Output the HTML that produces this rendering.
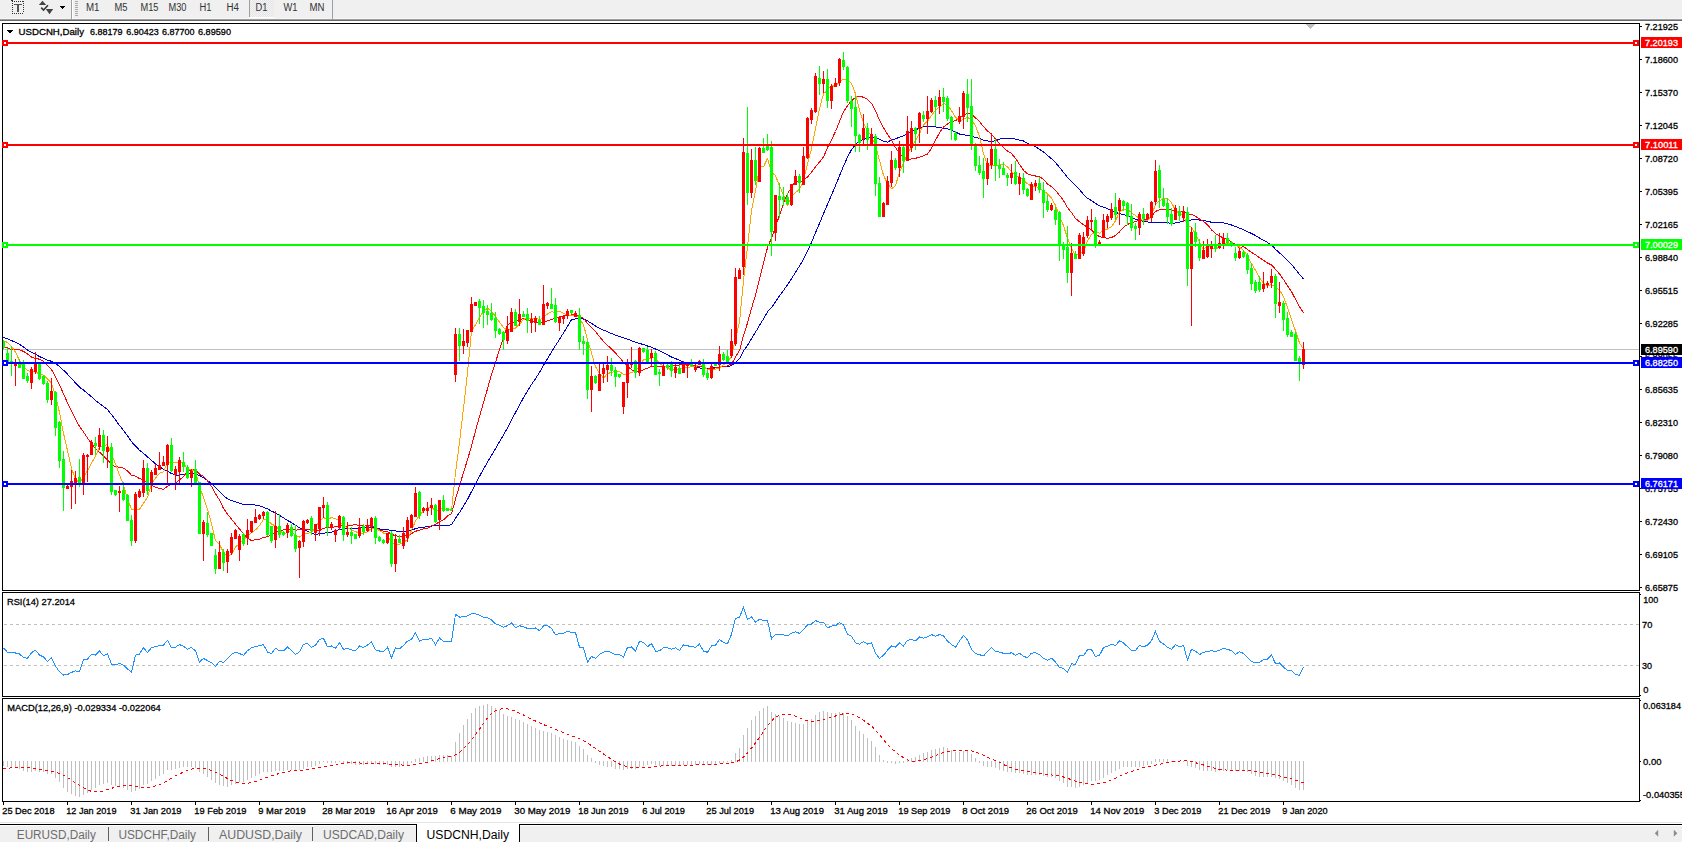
<!DOCTYPE html>
<html><head><meta charset="utf-8"><style>
html,body{margin:0;padding:0;background:#fff;overflow:hidden;width:1682px;height:842px}
svg{display:block}
text{font-family:"Liberation Sans", sans-serif;}
</style></head><body>
<svg width="1682" height="842" viewBox="0 0 1682 842" shape-rendering="crispEdges">
<rect x="0" y="0" width="1682" height="19" fill="#f0f0f0"/>
<rect x="0" y="18" width="1682" height="1" fill="#f6f6f6"/>
<rect x="0" y="19" width="1682" height="1" fill="#a0a0a0"/>
<rect x="0" y="20" width="1682" height="1" fill="#6a6a6a"/>
<rect x="12" y="1" width="1" height="1" fill="#333"/>
<rect x="12" y="13" width="1" height="1" fill="#333"/>
<rect x="14" y="1" width="1" height="1" fill="#333"/>
<rect x="14" y="13" width="1" height="1" fill="#333"/>
<rect x="16" y="1" width="1" height="1" fill="#333"/>
<rect x="16" y="13" width="1" height="1" fill="#333"/>
<rect x="18" y="1" width="1" height="1" fill="#333"/>
<rect x="18" y="13" width="1" height="1" fill="#333"/>
<rect x="20" y="1" width="1" height="1" fill="#333"/>
<rect x="20" y="13" width="1" height="1" fill="#333"/>
<rect x="22" y="1" width="1" height="1" fill="#333"/>
<rect x="22" y="13" width="1" height="1" fill="#333"/>
<rect x="12" y="1" width="1" height="1" fill="#333"/>
<rect x="23" y="1" width="1" height="1" fill="#333"/>
<rect x="12" y="3" width="1" height="1" fill="#333"/>
<rect x="23" y="3" width="1" height="1" fill="#333"/>
<rect x="12" y="5" width="1" height="1" fill="#333"/>
<rect x="23" y="5" width="1" height="1" fill="#333"/>
<rect x="12" y="7" width="1" height="1" fill="#333"/>
<rect x="23" y="7" width="1" height="1" fill="#333"/>
<rect x="12" y="9" width="1" height="1" fill="#333"/>
<rect x="23" y="9" width="1" height="1" fill="#333"/>
<rect x="12" y="11" width="1" height="1" fill="#333"/>
<rect x="23" y="11" width="1" height="1" fill="#333"/>
<rect x="11" y="0" width="2" height="1" fill="#333"/>
<rect x="14" y="4" width="8" height="1" fill="#555"/>
<rect x="17" y="5" width="2" height="7" fill="#555"/>
<path d="M38.8 5 L42.5 0.8 L46.2 5 Z" fill="#444" shape-rendering="auto"/>
<path d="M41.2 7.6 L43.5 10 L48 5.2" stroke="#383838" stroke-width="1.6" fill="none" shape-rendering="auto"/>
<path d="M45.8 9 L53.2 9 L49.5 14.2 Z" fill="#444" shape-rendering="auto"/>
<path d="M60 6 L65 6 L62.5 9 Z" fill="#000"/>
<rect x="71" y="0" width="1" height="19" fill="#a0a0a0"/>
<rect x="72" y="0" width="1" height="19" fill="#ffffff"/>
<rect x="75" y="1" width="3" height="1" fill="#a8a8a8"/>
<rect x="75" y="3" width="3" height="1" fill="#a8a8a8"/>
<rect x="75" y="5" width="3" height="1" fill="#a8a8a8"/>
<rect x="75" y="7" width="3" height="1" fill="#a8a8a8"/>
<rect x="75" y="9" width="3" height="1" fill="#a8a8a8"/>
<rect x="75" y="11" width="3" height="1" fill="#a8a8a8"/>
<rect x="75" y="13" width="3" height="1" fill="#a8a8a8"/>
<rect x="75" y="15" width="3" height="1" fill="#a8a8a8"/>
<defs><pattern id="chk" width="2" height="2" patternUnits="userSpaceOnUse"><rect width="2" height="2" fill="#f4f4f4"/><rect width="1" height="1" fill="#e4e4e4"/><rect x="1" y="1" width="1" height="1" fill="#e4e4e4"/></pattern></defs>
<rect x="250" y="0" width="24" height="17" fill="url(#chk)"/>
<rect x="249" y="0" width="1" height="17" fill="#a0a0a0"/>
<rect x="249" y="17" width="25" height="1" fill="#ffffff"/>
<rect x="332" y="0" width="1" height="19" fill="#a0a0a0"/>
<text x="86" y="11" font-size="10" fill="#333" textLength="13.5" lengthAdjust="spacingAndGlyphs" text-anchor="start" stroke-width="0">M1</text>
<text x="114.5" y="11" font-size="10" fill="#333" textLength="13" lengthAdjust="spacingAndGlyphs" text-anchor="start" stroke-width="0">M5</text>
<text x="140.5" y="11" font-size="10" fill="#333" textLength="18" lengthAdjust="spacingAndGlyphs" text-anchor="start" stroke-width="0">M15</text>
<text x="168.5" y="11" font-size="10" fill="#333" textLength="18" lengthAdjust="spacingAndGlyphs" text-anchor="start" stroke-width="0">M30</text>
<text x="199.5" y="11" font-size="10" fill="#333" textLength="12" lengthAdjust="spacingAndGlyphs" text-anchor="start" stroke-width="0">H1</text>
<text x="226.5" y="11" font-size="10" fill="#333" textLength="12.5" lengthAdjust="spacingAndGlyphs" text-anchor="start" stroke-width="0">H4</text>
<text x="255.5" y="11" font-size="10" fill="#333" textLength="12" lengthAdjust="spacingAndGlyphs" text-anchor="start" stroke-width="0">D1</text>
<text x="283.5" y="11" font-size="10" fill="#333" textLength="14" lengthAdjust="spacingAndGlyphs" text-anchor="start" stroke-width="0">W1</text>
<text x="309.5" y="11" font-size="10" fill="#333" textLength="15" lengthAdjust="spacingAndGlyphs" text-anchor="start" stroke-width="0">MN</text>
<rect x="2.5" y="23.5" width="1637" height="567" fill="none" stroke="#000" stroke-width="1"/>
<rect x="2.5" y="592.5" width="1637" height="104" fill="none" stroke="#000" stroke-width="1"/>
<rect x="2.5" y="698.5" width="1637" height="103" fill="none" stroke="#000" stroke-width="1"/>
<defs><clipPath id="cm"><rect x="3" y="24" width="1636" height="566"/></clipPath><clipPath id="cr"><rect x="3" y="593" width="1636" height="103"/></clipPath><clipPath id="cd"><rect x="3" y="699" width="1636" height="102"/></clipPath></defs>
<g clip-path="url(#cm)">
<rect x="3" y="349" width="1636" height="1" fill="#c0c0c0"/>
<polyline points="3.5,337.5 7.5,338.9 11.5,340.5 15.5,342.3 19.5,344.4 23.5,347.1 27.5,350.0 31.5,352.4 35.5,354.4 39.5,356.5 43.5,358.3 47.5,360.1 51.5,361.3 55.5,363.4 59.5,366.4 63.5,370.2 67.5,374.2 71.5,378.4 75.5,383.0 79.5,387.2 83.5,390.1 87.5,393.4 91.5,396.7 95.5,400.6 99.5,403.6 103.5,406.5 107.5,409.6 111.5,414.6 115.5,419.9 119.5,425.4 123.5,430.5 127.5,435.8 131.5,441.7 135.5,446.1 139.5,450.2 143.5,453.3 147.5,456.9 151.5,460.4 155.5,463.8 159.5,466.7 163.5,469.4 167.5,470.9 171.5,473.6 175.5,475.0 179.5,475.0 183.5,474.3 187.5,474.0 191.5,473.7 195.5,473.8 199.5,475.5 203.5,477.7 207.5,480.3 211.5,483.8 215.5,487.8 219.5,491.8 223.5,495.5 227.5,498.9 231.5,500.5 235.5,501.7 239.5,503.2 243.5,504.7 247.5,505.0 251.5,504.4 255.5,505.1 259.5,505.9 263.5,507.3 267.5,508.8 271.5,511.1 275.5,513.0 279.5,515.3 283.5,517.8 287.5,520.4 291.5,522.6 295.5,525.2 299.5,527.9 303.5,529.7 307.5,531.1 311.5,533.1 315.5,534.5 319.5,533.6 323.5,533.1 327.5,532.8 331.5,532.1 335.5,530.8 339.5,529.6 343.5,528.7 347.5,528.1 351.5,528.0 355.5,528.3 359.5,528.0 363.5,527.6 367.5,527.4 371.5,527.3 375.5,528.0 379.5,528.8 383.5,529.8 387.5,529.8 391.5,530.5 395.5,531.0 399.5,531.2 403.5,531.2 407.5,531.0 411.5,530.4 415.5,528.5 419.5,527.7 423.5,527.2 427.5,526.8 431.5,526.0 435.5,525.9 439.5,525.6 443.5,525.8 447.5,525.3 451.5,524.8 455.5,518.2 459.5,512.5 463.5,506.1 467.5,499.4 471.5,491.7 475.5,483.8 479.5,476.4 483.5,469.1 487.5,462.1 491.5,455.5 495.5,448.6 499.5,441.7 503.5,434.9 507.5,428.1 511.5,419.7 515.5,412.6 519.5,405.0 523.5,397.7 527.5,391.1 531.5,384.5 535.5,378.7 539.5,372.3 543.5,365.5 547.5,358.7 551.5,352.1 555.5,345.5 559.5,339.4 563.5,332.9 567.5,326.3 571.5,319.7 575.5,319.0 579.5,318.9 583.5,319.0 587.5,320.9 591.5,323.3 595.5,326.0 599.5,328.2 603.5,330.1 607.5,331.8 611.5,333.5 615.5,335.1 619.5,336.5 623.5,337.9 627.5,339.1 631.5,340.7 635.5,342.3 639.5,343.4 643.5,344.6 647.5,346.0 651.5,347.2 655.5,349.0 659.5,350.7 663.5,352.8 667.5,354.9 671.5,357.0 675.5,358.5 679.5,360.3 683.5,361.9 687.5,363.6 691.5,365.4 695.5,367.2 699.5,367.9 703.5,368.9 707.5,368.5 711.5,368.2 715.5,367.6 719.5,367.0 723.5,366.7 727.5,366.5 731.5,365.6 735.5,362.3 739.5,358.7 743.5,351.0 747.5,345.3 751.5,338.6 755.5,332.2 759.5,325.5 763.5,318.9 767.5,311.8 771.5,307.7 775.5,301.8 779.5,295.9 783.5,290.4 787.5,284.9 791.5,278.7 795.5,272.3 799.5,266.0 803.5,259.1 807.5,250.9 811.5,242.4 815.5,232.7 819.5,223.4 823.5,213.6 827.5,204.4 831.5,195.0 835.5,185.6 839.5,175.8 843.5,166.0 847.5,157.3 851.5,149.5 855.5,144.8 859.5,140.5 863.5,139.7 867.5,138.0 871.5,137.1 875.5,137.2 879.5,139.5 883.5,141.1 887.5,142.2 891.5,139.8 895.5,138.9 899.5,137.2 903.5,135.9 907.5,133.5 911.5,131.6 915.5,130.2 919.5,127.9 923.5,126.6 927.5,126.4 931.5,126.0 935.5,127.0 939.5,127.5 943.5,128.2 947.5,128.8 951.5,130.3 955.5,132.1 959.5,134.0 963.5,134.9 967.5,135.2 971.5,136.4 975.5,137.4 979.5,138.4 983.5,140.1 987.5,140.9 991.5,141.4 995.5,140.8 999.5,139.2 1003.5,138.2 1007.5,138.1 1011.5,138.5 1015.5,139.1 1019.5,140.1 1023.5,141.0 1027.5,143.2 1031.5,145.0 1035.5,146.7 1039.5,149.2 1043.5,152.0 1047.5,155.3 1051.5,158.8 1055.5,162.5 1059.5,167.4 1063.5,172.4 1067.5,177.5 1071.5,181.7 1075.5,185.6 1079.5,189.6 1083.5,194.4 1087.5,198.2 1091.5,200.7 1095.5,203.4 1099.5,205.7 1103.5,207.1 1107.5,208.8 1111.5,210.9 1115.5,212.5 1119.5,213.5 1123.5,214.6 1127.5,215.9 1131.5,217.7 1135.5,219.2 1139.5,220.4 1143.5,221.4 1147.5,222.0 1151.5,222.6 1155.5,222.2 1159.5,222.5 1163.5,222.6 1167.5,222.8 1171.5,223.4 1175.5,223.0 1179.5,222.1 1183.5,220.8 1187.5,220.7 1191.5,220.0 1195.5,219.4 1199.5,220.1 1203.5,220.5 1207.5,221.4 1211.5,222.2 1215.5,222.3 1219.5,222.3 1223.5,222.9 1227.5,223.8 1231.5,225.0 1235.5,226.4 1239.5,228.1 1243.5,229.8 1247.5,231.6 1251.5,233.5 1255.5,235.5 1259.5,238.0 1263.5,240.2 1267.5,242.5 1271.5,244.9 1275.5,249.3 1279.5,252.8 1283.5,256.7 1287.5,260.6 1291.5,264.4 1295.5,269.4 1299.5,274.4 1303.5,279.0" fill="none" stroke="#0000cd" stroke-width="1" stroke-linejoin="bevel"/>
<polyline points="3.5,347.4 7.5,348.0 11.5,349.4 15.5,350.0 19.5,349.8 23.5,351.4 27.5,354.1 31.5,357.0 35.5,358.4 39.5,359.2 43.5,361.4 47.5,365.5 51.5,369.5 55.5,376.8 59.5,384.9 63.5,393.9 67.5,402.7 71.5,411.1 75.5,419.0 79.5,426.5 83.5,431.9 87.5,438.0 91.5,443.7 95.5,448.5 99.5,452.2 103.5,455.9 107.5,459.9 111.5,464.4 115.5,466.8 119.5,467.1 123.5,468.1 127.5,470.9 131.5,475.3 135.5,476.1 139.5,478.7 143.5,479.7 147.5,483.1 151.5,485.0 155.5,487.3 159.5,488.4 163.5,489.4 167.5,486.1 171.5,484.5 175.5,482.9 179.5,480.2 183.5,476.3 187.5,471.8 191.5,470.1 195.5,469.6 199.5,474.2 203.5,476.4 207.5,480.8 211.5,486.4 215.5,493.7 219.5,500.1 223.5,508.5 227.5,514.2 231.5,519.1 235.5,524.1 239.5,529.0 243.5,533.8 247.5,538.0 251.5,540.7 255.5,539.6 259.5,539.1 263.5,537.5 267.5,536.8 271.5,534.8 275.5,532.9 279.5,531.0 283.5,529.8 287.5,528.9 291.5,529.3 295.5,530.1 299.5,529.9 303.5,529.3 307.5,529.2 311.5,530.2 315.5,530.8 319.5,530.5 323.5,528.4 327.5,527.3 331.5,527.2 335.5,526.9 339.5,525.6 343.5,526.2 347.5,526.0 351.5,525.1 355.5,524.9 359.5,525.3 363.5,526.1 367.5,525.8 371.5,525.3 375.5,527.5 379.5,530.0 383.5,531.2 387.5,531.8 391.5,534.2 395.5,535.8 399.5,536.4 403.5,536.5 407.5,535.4 411.5,533.7 415.5,531.3 419.5,530.1 423.5,528.9 427.5,528.2 431.5,525.9 435.5,524.5 439.5,521.5 443.5,519.8 447.5,516.0 451.5,513.9 455.5,499.1 459.5,485.6 463.5,472.8 467.5,459.6 471.5,446.1 475.5,430.9 479.5,416.5 483.5,402.6 487.5,388.9 491.5,374.5 495.5,362.3 499.5,349.7 503.5,337.5 507.5,324.6 511.5,323.0 515.5,321.6 519.5,319.7 523.5,318.6 527.5,319.8 531.5,321.0 535.5,321.8 539.5,322.6 543.5,321.9 547.5,320.8 551.5,319.3 555.5,318.4 559.5,316.9 563.5,315.9 567.5,315.8 571.5,314.9 575.5,314.8 579.5,316.7 583.5,318.3 587.5,323.3 591.5,327.4 595.5,331.7 599.5,336.6 603.5,341.3 607.5,345.3 611.5,348.9 615.5,353.1 619.5,357.4 623.5,362.5 627.5,366.1 631.5,369.6 635.5,371.8 639.5,372.1 643.5,369.5 647.5,368.4 651.5,366.4 655.5,366.4 659.5,366.8 663.5,366.9 667.5,366.6 671.5,366.2 675.5,365.6 679.5,364.9 683.5,364.8 687.5,364.9 691.5,364.5 695.5,365.8 699.5,366.5 703.5,367.4 707.5,369.1 711.5,368.5 715.5,367.9 719.5,367.0 723.5,366.5 727.5,365.9 731.5,364.0 735.5,357.1 739.5,350.5 743.5,335.5 747.5,323.0 751.5,308.3 755.5,295.3 759.5,279.2 763.5,263.1 767.5,247.6 771.5,238.0 775.5,226.7 779.5,215.2 783.5,203.7 787.5,193.8 791.5,187.2 795.5,180.5 799.5,182.6 803.5,180.1 807.5,177.1 811.5,172.1 815.5,166.9 819.5,162.0 823.5,157.0 827.5,147.6 831.5,139.8 835.5,131.5 839.5,121.5 843.5,111.7 847.5,105.7 851.5,100.8 855.5,97.5 859.5,96.4 863.5,97.2 867.5,99.2 871.5,103.4 875.5,110.5 879.5,120.3 883.5,127.6 887.5,134.4 891.5,139.9 895.5,147.6 899.5,153.4 903.5,157.7 907.5,159.4 911.5,158.9 915.5,158.3 919.5,157.2 923.5,155.7 927.5,154.1 931.5,148.2 935.5,140.3 939.5,132.8 943.5,127.0 947.5,124.0 951.5,121.3 955.5,120.8 959.5,117.6 963.5,114.9 967.5,113.3 971.5,114.1 975.5,117.8 979.5,121.7 983.5,126.5 987.5,131.0 991.5,134.1 995.5,138.9 999.5,143.7 1003.5,147.7 1007.5,151.1 1011.5,153.5 1015.5,158.4 1019.5,164.4 1023.5,170.3 1027.5,173.9 1031.5,175.2 1035.5,176.0 1039.5,176.7 1043.5,179.5 1047.5,183.9 1051.5,186.7 1055.5,190.4 1059.5,195.4 1063.5,200.5 1067.5,207.6 1071.5,212.6 1075.5,218.4 1079.5,221.7 1083.5,224.7 1087.5,227.3 1091.5,229.9 1095.5,233.9 1099.5,236.8 1103.5,237.5 1107.5,238.3 1111.5,237.6 1115.5,235.4 1119.5,231.9 1123.5,227.2 1127.5,224.5 1131.5,222.3 1135.5,221.8 1139.5,220.1 1143.5,220.0 1147.5,219.6 1151.5,216.5 1155.5,211.4 1159.5,209.8 1163.5,209.0 1167.5,209.5 1171.5,210.1 1175.5,210.8 1179.5,211.5 1183.5,211.1 1187.5,214.1 1191.5,214.3 1195.5,216.2 1199.5,219.0 1203.5,221.5 1207.5,224.7 1211.5,229.9 1215.5,233.5 1219.5,236.2 1223.5,237.8 1227.5,239.2 1231.5,241.8 1235.5,244.8 1239.5,247.6 1243.5,246.7 1247.5,249.4 1251.5,252.4 1255.5,254.8 1259.5,257.6 1263.5,260.3 1267.5,263.0 1271.5,265.0 1275.5,269.3 1279.5,273.9 1283.5,279.4 1287.5,285.8 1291.5,291.5 1295.5,299.3 1299.5,306.9 1303.5,312.6" fill="none" stroke="#ff0000" stroke-width="1" stroke-linejoin="bevel"/>
<polyline points="3.5,340.7 7.5,342.4 11.5,346.5 15.5,352.2 19.5,360.6 23.5,366.8 27.5,370.5 31.5,371.9 35.5,371.9 39.5,374.1 43.5,375.1 47.5,378.9 51.5,383.3 55.5,396.0 59.5,412.5 63.5,433.3 67.5,450.6 71.5,468.6 75.5,478.8 79.5,483.4 83.5,477.0 87.5,470.8 91.5,463.1 95.5,456.5 99.5,446.9 103.5,446.0 107.5,444.5 111.5,454.2 115.5,463.9 119.5,475.1 123.5,484.8 127.5,499.4 131.5,509.2 135.5,509.4 139.5,509.4 143.5,503.3 147.5,497.3 151.5,483.7 155.5,478.3 159.5,473.1 163.5,471.8 167.5,462.8 171.5,462.5 175.5,462.8 179.5,461.9 183.5,462.8 187.5,469.1 191.5,469.2 195.5,472.0 199.5,486.5 203.5,497.6 207.5,509.0 211.5,523.8 215.5,540.7 219.5,544.6 223.5,552.6 227.5,556.0 231.5,554.4 235.5,546.9 239.5,543.6 243.5,539.9 247.5,535.8 251.5,532.6 255.5,529.9 259.5,525.7 263.5,519.4 267.5,520.3 271.5,524.1 275.5,525.9 279.5,529.8 283.5,534.3 287.5,532.4 291.5,531.4 295.5,535.8 299.5,537.1 303.5,534.4 307.5,533.4 311.5,532.4 315.5,527.7 319.5,520.9 323.5,517.7 327.5,518.9 331.5,517.7 335.5,518.8 339.5,520.6 343.5,526.3 347.5,527.6 351.5,529.9 355.5,531.5 359.5,533.7 363.5,533.2 367.5,531.9 371.5,528.3 375.5,528.1 379.5,530.7 383.5,533.0 387.5,534.5 391.5,543.5 395.5,543.9 399.5,544.3 403.5,542.3 407.5,539.9 411.5,530.3 415.5,521.0 419.5,515.6 423.5,510.7 427.5,508.2 431.5,506.2 435.5,511.9 439.5,508.8 443.5,509.1 447.5,509.6 451.5,510.4 455.5,473.0 459.5,442.0 463.5,408.3 467.5,372.3 471.5,331.3 475.5,324.8 479.5,317.2 483.5,311.4 487.5,308.1 491.5,311.2 495.5,316.7 499.5,322.0 503.5,327.4 507.5,330.4 511.5,329.0 515.5,328.1 519.5,324.2 523.5,319.5 527.5,317.7 531.5,319.1 535.5,317.7 539.5,319.7 543.5,317.4 547.5,314.0 551.5,311.8 555.5,312.4 559.5,311.2 563.5,313.5 567.5,315.1 571.5,315.9 575.5,314.3 579.5,319.1 583.5,324.6 587.5,340.1 591.5,352.8 595.5,366.8 599.5,373.2 603.5,378.2 607.5,373.6 611.5,372.4 615.5,371.1 619.5,371.6 623.5,374.5 627.5,373.9 631.5,372.3 635.5,371.4 639.5,365.9 643.5,359.6 647.5,359.4 651.5,357.7 655.5,358.3 659.5,363.3 663.5,366.3 667.5,367.3 671.5,370.7 675.5,369.2 679.5,369.0 683.5,368.1 687.5,367.6 691.5,366.6 695.5,366.6 699.5,364.2 703.5,366.7 707.5,369.4 711.5,369.6 715.5,369.3 719.5,367.8 723.5,364.7 727.5,361.5 731.5,356.5 735.5,338.8 739.5,322.0 743.5,280.6 747.5,246.8 751.5,210.5 755.5,191.1 759.5,166.8 763.5,166.8 767.5,158.3 771.5,172.6 775.5,175.6 779.5,185.8 783.5,195.1 787.5,205.9 791.5,196.6 795.5,192.6 799.5,189.2 803.5,180.7 807.5,163.6 811.5,148.8 815.5,128.8 819.5,109.0 823.5,93.7 827.5,90.1 831.5,85.3 835.5,86.7 839.5,81.9 843.5,79.2 847.5,79.2 851.5,83.5 855.5,93.8 859.5,110.4 863.5,122.9 867.5,130.8 871.5,136.0 875.5,145.6 879.5,160.4 883.5,175.3 887.5,183.7 891.5,188.9 895.5,185.7 899.5,172.0 903.5,163.4 907.5,153.4 911.5,147.2 915.5,140.4 919.5,133.6 923.5,125.1 927.5,121.2 931.5,115.5 935.5,110.1 939.5,106.9 943.5,103.5 947.5,104.7 951.5,110.6 955.5,117.2 959.5,121.0 963.5,119.4 967.5,117.2 971.5,120.2 975.5,125.4 979.5,136.7 983.5,153.7 987.5,165.0 991.5,165.8 995.5,165.8 999.5,165.1 1003.5,164.2 1007.5,166.9 1011.5,171.7 1015.5,175.4 1019.5,177.2 1023.5,180.3 1027.5,183.9 1031.5,186.1 1035.5,186.0 1039.5,188.3 1043.5,190.9 1047.5,193.8 1051.5,198.1 1055.5,205.4 1059.5,216.5 1063.5,225.7 1067.5,238.2 1071.5,247.9 1075.5,255.5 1079.5,253.8 1083.5,251.5 1087.5,241.1 1091.5,234.4 1095.5,231.9 1099.5,233.3 1103.5,229.9 1107.5,229.0 1111.5,226.9 1115.5,220.7 1119.5,212.2 1123.5,209.2 1127.5,209.2 1131.5,212.7 1135.5,215.6 1139.5,218.4 1143.5,221.1 1147.5,220.7 1151.5,215.7 1155.5,204.3 1159.5,200.9 1163.5,198.3 1167.5,198.6 1171.5,202.7 1175.5,210.2 1179.5,213.8 1183.5,215.0 1187.5,225.5 1191.5,227.3 1195.5,233.8 1199.5,242.1 1203.5,249.8 1207.5,245.4 1211.5,247.8 1215.5,249.3 1219.5,246.6 1223.5,244.3 1227.5,243.4 1231.5,243.6 1235.5,245.4 1239.5,247.0 1243.5,250.5 1247.5,256.0 1251.5,263.6 1255.5,270.2 1259.5,277.7 1263.5,283.3 1267.5,286.0 1271.5,284.5 1275.5,287.2 1279.5,289.9 1283.5,297.0 1287.5,307.4 1291.5,319.5 1295.5,330.9 1299.5,343.0 1303.5,349.0" fill="none" stroke="#ffa500" stroke-width="1" stroke-linejoin="bevel"/>
<rect x="3" y="340" width="1" height="9" fill="#00ff00"/>
<rect x="2" y="341" width="3" height="7" fill="#00ff00"/>
<rect x="7" y="348" width="1" height="17" fill="#00ff00"/>
<rect x="6" y="353" width="3" height="9" fill="#00ff00"/>
<rect x="11" y="346" width="1" height="30" fill="#00ff00"/>
<rect x="10" y="361" width="3" height="2" fill="#00ff00"/>
<rect x="15" y="359" width="1" height="27" fill="#ff0000"/>
<rect x="14" y="364" width="3" height="2" fill="#ff0000"/>
<rect x="19" y="359" width="1" height="9" fill="#00ff00"/>
<rect x="18" y="363" width="3" height="5" fill="#00ff00"/>
<rect x="23" y="360" width="1" height="19" fill="#00ff00"/>
<rect x="22" y="364" width="3" height="15" fill="#00ff00"/>
<rect x="27" y="373" width="1" height="10" fill="#00ff00"/>
<rect x="26" y="376" width="3" height="5" fill="#00ff00"/>
<rect x="31" y="367" width="1" height="22" fill="#ff0000"/>
<rect x="30" y="369" width="3" height="14" fill="#ff0000"/>
<rect x="35" y="352" width="1" height="22" fill="#ff0000"/>
<rect x="34" y="364" width="3" height="8" fill="#ff0000"/>
<rect x="39" y="362" width="1" height="18" fill="#00ff00"/>
<rect x="38" y="364" width="3" height="15" fill="#00ff00"/>
<rect x="43" y="375" width="1" height="10" fill="#00ff00"/>
<rect x="42" y="376" width="3" height="8" fill="#00ff00"/>
<rect x="47" y="381" width="1" height="22" fill="#00ff00"/>
<rect x="46" y="383" width="3" height="17" fill="#00ff00"/>
<rect x="51" y="378" width="1" height="27" fill="#ff0000"/>
<rect x="50" y="391" width="3" height="9" fill="#ff0000"/>
<rect x="55" y="391" width="1" height="45" fill="#00ff00"/>
<rect x="54" y="392" width="3" height="36" fill="#00ff00"/>
<rect x="59" y="421" width="1" height="47" fill="#00ff00"/>
<rect x="58" y="422" width="3" height="39" fill="#00ff00"/>
<rect x="63" y="451" width="1" height="60" fill="#00ff00"/>
<rect x="62" y="459" width="3" height="29" fill="#00ff00"/>
<rect x="67" y="485" width="1" height="4" fill="#ff0000"/>
<rect x="66" y="486" width="3" height="3" fill="#ff0000"/>
<rect x="71" y="470" width="1" height="39" fill="#ff0000"/>
<rect x="70" y="481" width="3" height="6" fill="#ff0000"/>
<rect x="75" y="471" width="1" height="33" fill="#ff0000"/>
<rect x="74" y="478" width="3" height="5" fill="#ff0000"/>
<rect x="79" y="459" width="1" height="28" fill="#00ff00"/>
<rect x="78" y="477" width="3" height="7" fill="#00ff00"/>
<rect x="83" y="453" width="1" height="42" fill="#ff0000"/>
<rect x="82" y="455" width="3" height="29" fill="#ff0000"/>
<rect x="87" y="454" width="1" height="28" fill="#ff0000"/>
<rect x="86" y="455" width="3" height="2" fill="#ff0000"/>
<rect x="91" y="440" width="1" height="15" fill="#ff0000"/>
<rect x="90" y="442" width="3" height="13" fill="#ff0000"/>
<rect x="95" y="437" width="1" height="18" fill="#00ff00"/>
<rect x="94" y="443" width="3" height="3" fill="#00ff00"/>
<rect x="99" y="428" width="1" height="22" fill="#ff0000"/>
<rect x="98" y="435" width="3" height="12" fill="#ff0000"/>
<rect x="103" y="430" width="1" height="33" fill="#00ff00"/>
<rect x="102" y="435" width="3" height="16" fill="#00ff00"/>
<rect x="107" y="436" width="1" height="32" fill="#ff0000"/>
<rect x="106" y="447" width="3" height="5" fill="#ff0000"/>
<rect x="111" y="443" width="1" height="52" fill="#00ff00"/>
<rect x="110" y="447" width="3" height="45" fill="#00ff00"/>
<rect x="115" y="490" width="1" height="6" fill="#00ff00"/>
<rect x="114" y="490" width="3" height="5" fill="#00ff00"/>
<rect x="119" y="486" width="1" height="26" fill="#ff0000"/>
<rect x="118" y="491" width="3" height="2" fill="#ff0000"/>
<rect x="123" y="482" width="1" height="19" fill="#00ff00"/>
<rect x="122" y="490" width="3" height="10" fill="#00ff00"/>
<rect x="127" y="494" width="1" height="27" fill="#00ff00"/>
<rect x="126" y="495" width="3" height="26" fill="#00ff00"/>
<rect x="131" y="515" width="1" height="31" fill="#00ff00"/>
<rect x="130" y="520" width="3" height="21" fill="#00ff00"/>
<rect x="135" y="492" width="1" height="51" fill="#ff0000"/>
<rect x="134" y="494" width="3" height="47" fill="#ff0000"/>
<rect x="139" y="489" width="1" height="9" fill="#ff0000"/>
<rect x="138" y="491" width="3" height="6" fill="#ff0000"/>
<rect x="143" y="460" width="1" height="37" fill="#ff0000"/>
<rect x="142" y="468" width="3" height="25" fill="#ff0000"/>
<rect x="147" y="463" width="1" height="32" fill="#00ff00"/>
<rect x="146" y="468" width="3" height="23" fill="#00ff00"/>
<rect x="151" y="470" width="1" height="22" fill="#ff0000"/>
<rect x="150" y="472" width="3" height="12" fill="#ff0000"/>
<rect x="155" y="464" width="1" height="11" fill="#ff0000"/>
<rect x="154" y="468" width="3" height="7" fill="#ff0000"/>
<rect x="159" y="452" width="1" height="18" fill="#ff0000"/>
<rect x="158" y="465" width="3" height="5" fill="#ff0000"/>
<rect x="163" y="456" width="1" height="10" fill="#ff0000"/>
<rect x="162" y="462" width="3" height="4" fill="#ff0000"/>
<rect x="167" y="444" width="1" height="39" fill="#ff0000"/>
<rect x="166" y="445" width="3" height="20" fill="#ff0000"/>
<rect x="171" y="438" width="1" height="34" fill="#00ff00"/>
<rect x="170" y="445" width="3" height="26" fill="#00ff00"/>
<rect x="175" y="466" width="1" height="24" fill="#ff0000"/>
<rect x="174" y="469" width="3" height="6" fill="#ff0000"/>
<rect x="179" y="457" width="1" height="27" fill="#ff0000"/>
<rect x="178" y="460" width="3" height="12" fill="#ff0000"/>
<rect x="183" y="452" width="1" height="20" fill="#00ff00"/>
<rect x="182" y="462" width="3" height="5" fill="#00ff00"/>
<rect x="187" y="465" width="1" height="14" fill="#00ff00"/>
<rect x="186" y="467" width="3" height="11" fill="#00ff00"/>
<rect x="191" y="469" width="1" height="18" fill="#ff0000"/>
<rect x="190" y="471" width="3" height="7" fill="#ff0000"/>
<rect x="195" y="460" width="1" height="24" fill="#00ff00"/>
<rect x="194" y="469" width="3" height="15" fill="#00ff00"/>
<rect x="199" y="482" width="1" height="52" fill="#00ff00"/>
<rect x="198" y="482" width="3" height="52" fill="#00ff00"/>
<rect x="203" y="520" width="1" height="41" fill="#ff0000"/>
<rect x="202" y="522" width="3" height="12" fill="#ff0000"/>
<rect x="207" y="512" width="1" height="25" fill="#00ff00"/>
<rect x="206" y="523" width="3" height="12" fill="#00ff00"/>
<rect x="211" y="533" width="1" height="13" fill="#00ff00"/>
<rect x="210" y="533" width="3" height="13" fill="#00ff00"/>
<rect x="215" y="549" width="1" height="25" fill="#00ff00"/>
<rect x="214" y="555" width="3" height="14" fill="#00ff00"/>
<rect x="219" y="541" width="1" height="28" fill="#ff0000"/>
<rect x="218" y="552" width="3" height="17" fill="#ff0000"/>
<rect x="223" y="549" width="1" height="22" fill="#00ff00"/>
<rect x="222" y="552" width="3" height="11" fill="#00ff00"/>
<rect x="227" y="549" width="1" height="24" fill="#ff0000"/>
<rect x="226" y="551" width="3" height="11" fill="#ff0000"/>
<rect x="231" y="533" width="1" height="22" fill="#ff0000"/>
<rect x="230" y="537" width="3" height="16" fill="#ff0000"/>
<rect x="235" y="529" width="1" height="10" fill="#ff0000"/>
<rect x="234" y="530" width="3" height="9" fill="#ff0000"/>
<rect x="239" y="534" width="1" height="27" fill="#ff0000"/>
<rect x="238" y="536" width="3" height="14" fill="#ff0000"/>
<rect x="243" y="533" width="1" height="13" fill="#00ff00"/>
<rect x="242" y="534" width="3" height="10" fill="#00ff00"/>
<rect x="247" y="519" width="1" height="26" fill="#ff0000"/>
<rect x="246" y="530" width="3" height="8" fill="#ff0000"/>
<rect x="251" y="521" width="1" height="12" fill="#ff0000"/>
<rect x="250" y="521" width="3" height="11" fill="#ff0000"/>
<rect x="255" y="509" width="1" height="14" fill="#ff0000"/>
<rect x="254" y="517" width="3" height="6" fill="#ff0000"/>
<rect x="259" y="514" width="1" height="6" fill="#ff0000"/>
<rect x="258" y="515" width="3" height="4" fill="#ff0000"/>
<rect x="263" y="511" width="1" height="8" fill="#ff0000"/>
<rect x="262" y="512" width="3" height="4" fill="#ff0000"/>
<rect x="267" y="511" width="1" height="25" fill="#00ff00"/>
<rect x="266" y="512" width="3" height="23" fill="#00ff00"/>
<rect x="271" y="526" width="1" height="17" fill="#00ff00"/>
<rect x="270" y="526" width="3" height="15" fill="#00ff00"/>
<rect x="275" y="511" width="1" height="37" fill="#ff0000"/>
<rect x="274" y="526" width="3" height="14" fill="#ff0000"/>
<rect x="279" y="514" width="1" height="24" fill="#00ff00"/>
<rect x="278" y="526" width="3" height="9" fill="#00ff00"/>
<rect x="283" y="531" width="1" height="5" fill="#00ff00"/>
<rect x="282" y="532" width="3" height="3" fill="#00ff00"/>
<rect x="287" y="523" width="1" height="15" fill="#ff0000"/>
<rect x="286" y="525" width="3" height="8" fill="#ff0000"/>
<rect x="291" y="524" width="1" height="13" fill="#00ff00"/>
<rect x="290" y="527" width="3" height="9" fill="#00ff00"/>
<rect x="295" y="525" width="1" height="27" fill="#00ff00"/>
<rect x="294" y="535" width="3" height="14" fill="#00ff00"/>
<rect x="299" y="540" width="1" height="38" fill="#ff0000"/>
<rect x="298" y="541" width="3" height="7" fill="#ff0000"/>
<rect x="303" y="520" width="1" height="27" fill="#ff0000"/>
<rect x="302" y="521" width="3" height="21" fill="#ff0000"/>
<rect x="307" y="519" width="1" height="5" fill="#ff0000"/>
<rect x="306" y="520" width="3" height="3" fill="#ff0000"/>
<rect x="311" y="516" width="1" height="19" fill="#00ff00"/>
<rect x="310" y="518" width="3" height="13" fill="#00ff00"/>
<rect x="315" y="524" width="1" height="17" fill="#ff0000"/>
<rect x="314" y="524" width="3" height="9" fill="#ff0000"/>
<rect x="319" y="507" width="1" height="29" fill="#ff0000"/>
<rect x="318" y="507" width="3" height="22" fill="#ff0000"/>
<rect x="323" y="497" width="1" height="21" fill="#ff0000"/>
<rect x="322" y="505" width="3" height="3" fill="#ff0000"/>
<rect x="327" y="502" width="1" height="34" fill="#00ff00"/>
<rect x="326" y="505" width="3" height="22" fill="#00ff00"/>
<rect x="331" y="522" width="1" height="8" fill="#ff0000"/>
<rect x="330" y="524" width="3" height="4" fill="#ff0000"/>
<rect x="335" y="529" width="1" height="13" fill="#ff0000"/>
<rect x="334" y="530" width="3" height="5" fill="#ff0000"/>
<rect x="339" y="515" width="1" height="15" fill="#ff0000"/>
<rect x="338" y="516" width="3" height="12" fill="#ff0000"/>
<rect x="343" y="516" width="1" height="25" fill="#00ff00"/>
<rect x="342" y="517" width="3" height="18" fill="#00ff00"/>
<rect x="347" y="522" width="1" height="15" fill="#ff0000"/>
<rect x="346" y="532" width="3" height="3" fill="#ff0000"/>
<rect x="351" y="527" width="1" height="17" fill="#00ff00"/>
<rect x="350" y="532" width="3" height="4" fill="#00ff00"/>
<rect x="355" y="534" width="1" height="5" fill="#00ff00"/>
<rect x="354" y="534" width="3" height="5" fill="#00ff00"/>
<rect x="359" y="518" width="1" height="20" fill="#ff0000"/>
<rect x="358" y="527" width="3" height="9" fill="#ff0000"/>
<rect x="363" y="524" width="1" height="11" fill="#00ff00"/>
<rect x="362" y="526" width="3" height="6" fill="#00ff00"/>
<rect x="367" y="519" width="1" height="13" fill="#ff0000"/>
<rect x="366" y="526" width="3" height="5" fill="#ff0000"/>
<rect x="371" y="517" width="1" height="15" fill="#ff0000"/>
<rect x="370" y="518" width="3" height="9" fill="#ff0000"/>
<rect x="375" y="516" width="1" height="28" fill="#00ff00"/>
<rect x="374" y="518" width="3" height="20" fill="#00ff00"/>
<rect x="379" y="536" width="1" height="6" fill="#00ff00"/>
<rect x="378" y="537" width="3" height="4" fill="#00ff00"/>
<rect x="383" y="539" width="1" height="5" fill="#00ff00"/>
<rect x="382" y="540" width="3" height="3" fill="#00ff00"/>
<rect x="387" y="533" width="1" height="11" fill="#ff0000"/>
<rect x="386" y="533" width="3" height="10" fill="#ff0000"/>
<rect x="391" y="531" width="1" height="36" fill="#00ff00"/>
<rect x="390" y="533" width="3" height="31" fill="#00ff00"/>
<rect x="395" y="534" width="1" height="38" fill="#ff0000"/>
<rect x="394" y="539" width="3" height="25" fill="#ff0000"/>
<rect x="399" y="535" width="1" height="8" fill="#00ff00"/>
<rect x="398" y="539" width="3" height="4" fill="#00ff00"/>
<rect x="403" y="527" width="1" height="22" fill="#ff0000"/>
<rect x="402" y="533" width="3" height="13" fill="#ff0000"/>
<rect x="407" y="517" width="1" height="25" fill="#ff0000"/>
<rect x="406" y="520" width="3" height="18" fill="#ff0000"/>
<rect x="411" y="514" width="1" height="9" fill="#ff0000"/>
<rect x="410" y="515" width="3" height="13" fill="#ff0000"/>
<rect x="415" y="487" width="1" height="30" fill="#ff0000"/>
<rect x="414" y="493" width="3" height="24" fill="#ff0000"/>
<rect x="419" y="491" width="1" height="28" fill="#00ff00"/>
<rect x="418" y="492" width="3" height="24" fill="#00ff00"/>
<rect x="423" y="507" width="1" height="6" fill="#ff0000"/>
<rect x="422" y="508" width="3" height="3" fill="#ff0000"/>
<rect x="427" y="502" width="1" height="14" fill="#ff0000"/>
<rect x="426" y="508" width="3" height="3" fill="#ff0000"/>
<rect x="431" y="498" width="1" height="17" fill="#ff0000"/>
<rect x="430" y="505" width="3" height="3" fill="#ff0000"/>
<rect x="435" y="504" width="1" height="19" fill="#00ff00"/>
<rect x="434" y="505" width="3" height="17" fill="#00ff00"/>
<rect x="439" y="500" width="1" height="30" fill="#ff0000"/>
<rect x="438" y="500" width="3" height="20" fill="#ff0000"/>
<rect x="443" y="495" width="1" height="17" fill="#00ff00"/>
<rect x="442" y="500" width="3" height="11" fill="#00ff00"/>
<rect x="447" y="508" width="1" height="3" fill="#00ff00"/>
<rect x="446" y="508" width="3" height="3" fill="#00ff00"/>
<rect x="451" y="508" width="1" height="3" fill="#00ff00"/>
<rect x="450" y="509" width="3" height="1" fill="#00ff00"/>
<rect x="455" y="328" width="1" height="54" fill="#ff0000"/>
<rect x="454" y="334" width="3" height="41" fill="#ff0000"/>
<rect x="459" y="328" width="1" height="33" fill="#00ff00"/>
<rect x="458" y="334" width="3" height="12" fill="#00ff00"/>
<rect x="463" y="329" width="1" height="25" fill="#ff0000"/>
<rect x="462" y="341" width="3" height="5" fill="#ff0000"/>
<rect x="467" y="330" width="1" height="17" fill="#ff0000"/>
<rect x="466" y="330" width="3" height="13" fill="#ff0000"/>
<rect x="471" y="297" width="1" height="35" fill="#ff0000"/>
<rect x="470" y="304" width="3" height="28" fill="#ff0000"/>
<rect x="475" y="302" width="1" height="4" fill="#ff0000"/>
<rect x="474" y="302" width="3" height="4" fill="#ff0000"/>
<rect x="479" y="299" width="1" height="25" fill="#00ff00"/>
<rect x="478" y="301" width="3" height="7" fill="#00ff00"/>
<rect x="483" y="300" width="1" height="28" fill="#00ff00"/>
<rect x="482" y="306" width="3" height="7" fill="#00ff00"/>
<rect x="487" y="305" width="1" height="20" fill="#00ff00"/>
<rect x="486" y="311" width="3" height="4" fill="#00ff00"/>
<rect x="491" y="303" width="1" height="18" fill="#00ff00"/>
<rect x="490" y="313" width="3" height="7" fill="#00ff00"/>
<rect x="495" y="312" width="1" height="26" fill="#00ff00"/>
<rect x="494" y="318" width="3" height="13" fill="#00ff00"/>
<rect x="499" y="328" width="1" height="7" fill="#00ff00"/>
<rect x="498" y="329" width="3" height="5" fill="#00ff00"/>
<rect x="503" y="331" width="1" height="19" fill="#00ff00"/>
<rect x="502" y="332" width="3" height="8" fill="#00ff00"/>
<rect x="507" y="316" width="1" height="28" fill="#ff0000"/>
<rect x="506" y="329" width="3" height="12" fill="#ff0000"/>
<rect x="511" y="308" width="1" height="24" fill="#ff0000"/>
<rect x="510" y="312" width="3" height="20" fill="#ff0000"/>
<rect x="515" y="309" width="1" height="16" fill="#00ff00"/>
<rect x="514" y="312" width="3" height="14" fill="#00ff00"/>
<rect x="519" y="299" width="1" height="27" fill="#ff0000"/>
<rect x="518" y="314" width="3" height="8" fill="#ff0000"/>
<rect x="523" y="311" width="1" height="6" fill="#00ff00"/>
<rect x="522" y="314" width="3" height="3" fill="#00ff00"/>
<rect x="527" y="308" width="1" height="25" fill="#00ff00"/>
<rect x="526" y="314" width="3" height="7" fill="#00ff00"/>
<rect x="531" y="313" width="1" height="20" fill="#ff0000"/>
<rect x="530" y="319" width="3" height="4" fill="#ff0000"/>
<rect x="535" y="316" width="1" height="16" fill="#ff0000"/>
<rect x="534" y="318" width="3" height="5" fill="#ff0000"/>
<rect x="539" y="316" width="1" height="9" fill="#00ff00"/>
<rect x="538" y="320" width="3" height="5" fill="#00ff00"/>
<rect x="543" y="285" width="1" height="40" fill="#ff0000"/>
<rect x="542" y="304" width="3" height="21" fill="#ff0000"/>
<rect x="547" y="302" width="1" height="7" fill="#ff0000"/>
<rect x="546" y="303" width="3" height="3" fill="#ff0000"/>
<rect x="551" y="288" width="1" height="21" fill="#00ff00"/>
<rect x="550" y="304" width="3" height="5" fill="#00ff00"/>
<rect x="555" y="298" width="1" height="25" fill="#00ff00"/>
<rect x="554" y="305" width="3" height="17" fill="#00ff00"/>
<rect x="559" y="316" width="1" height="15" fill="#ff0000"/>
<rect x="558" y="317" width="3" height="6" fill="#ff0000"/>
<rect x="563" y="316" width="1" height="8" fill="#ff0000"/>
<rect x="562" y="316" width="3" height="3" fill="#ff0000"/>
<rect x="567" y="309" width="1" height="10" fill="#ff0000"/>
<rect x="566" y="311" width="3" height="5" fill="#ff0000"/>
<rect x="571" y="310" width="1" height="4" fill="#00ff00"/>
<rect x="570" y="310" width="3" height="3" fill="#00ff00"/>
<rect x="575" y="311" width="1" height="6" fill="#ff0000"/>
<rect x="574" y="313" width="3" height="4" fill="#ff0000"/>
<rect x="579" y="308" width="1" height="42" fill="#00ff00"/>
<rect x="578" y="315" width="3" height="27" fill="#00ff00"/>
<rect x="583" y="336" width="1" height="19" fill="#00ff00"/>
<rect x="582" y="341" width="3" height="3" fill="#00ff00"/>
<rect x="587" y="341" width="1" height="58" fill="#00ff00"/>
<rect x="586" y="342" width="3" height="48" fill="#00ff00"/>
<rect x="591" y="366" width="1" height="46" fill="#ff0000"/>
<rect x="590" y="376" width="3" height="14" fill="#ff0000"/>
<rect x="595" y="375" width="1" height="9" fill="#00ff00"/>
<rect x="594" y="376" width="3" height="7" fill="#00ff00"/>
<rect x="599" y="363" width="1" height="28" fill="#ff0000"/>
<rect x="598" y="374" width="3" height="17" fill="#ff0000"/>
<rect x="603" y="363" width="1" height="20" fill="#ff0000"/>
<rect x="602" y="368" width="3" height="6" fill="#ff0000"/>
<rect x="607" y="356" width="1" height="26" fill="#ff0000"/>
<rect x="606" y="365" width="3" height="5" fill="#ff0000"/>
<rect x="611" y="358" width="1" height="18" fill="#00ff00"/>
<rect x="610" y="365" width="3" height="6" fill="#00ff00"/>
<rect x="615" y="367" width="1" height="20" fill="#00ff00"/>
<rect x="614" y="370" width="3" height="7" fill="#00ff00"/>
<rect x="619" y="374" width="1" height="4" fill="#00ff00"/>
<rect x="618" y="374" width="3" height="3" fill="#00ff00"/>
<rect x="623" y="382" width="1" height="32" fill="#ff0000"/>
<rect x="622" y="382" width="3" height="25" fill="#ff0000"/>
<rect x="627" y="359" width="1" height="39" fill="#ff0000"/>
<rect x="626" y="363" width="3" height="20" fill="#ff0000"/>
<rect x="631" y="347" width="1" height="21" fill="#ff0000"/>
<rect x="630" y="362" width="3" height="3" fill="#ff0000"/>
<rect x="635" y="360" width="1" height="18" fill="#00ff00"/>
<rect x="634" y="361" width="3" height="12" fill="#00ff00"/>
<rect x="639" y="347" width="1" height="29" fill="#ff0000"/>
<rect x="638" y="348" width="3" height="25" fill="#ff0000"/>
<rect x="643" y="348" width="1" height="5" fill="#00ff00"/>
<rect x="642" y="348" width="3" height="4" fill="#00ff00"/>
<rect x="647" y="347" width="1" height="16" fill="#00ff00"/>
<rect x="646" y="350" width="3" height="13" fill="#00ff00"/>
<rect x="651" y="349" width="1" height="17" fill="#ff0000"/>
<rect x="650" y="353" width="3" height="5" fill="#ff0000"/>
<rect x="655" y="351" width="1" height="23" fill="#00ff00"/>
<rect x="654" y="353" width="3" height="22" fill="#00ff00"/>
<rect x="659" y="369" width="1" height="17" fill="#00ff00"/>
<rect x="658" y="372" width="3" height="2" fill="#00ff00"/>
<rect x="663" y="363" width="1" height="13" fill="#ff0000"/>
<rect x="662" y="366" width="3" height="10" fill="#ff0000"/>
<rect x="667" y="364" width="1" height="6" fill="#00ff00"/>
<rect x="666" y="365" width="3" height="3" fill="#00ff00"/>
<rect x="671" y="361" width="1" height="16" fill="#00ff00"/>
<rect x="670" y="364" width="3" height="7" fill="#00ff00"/>
<rect x="675" y="364" width="1" height="14" fill="#ff0000"/>
<rect x="674" y="367" width="3" height="6" fill="#ff0000"/>
<rect x="679" y="365" width="1" height="9" fill="#00ff00"/>
<rect x="678" y="368" width="3" height="6" fill="#00ff00"/>
<rect x="683" y="361" width="1" height="12" fill="#ff0000"/>
<rect x="682" y="362" width="3" height="11" fill="#ff0000"/>
<rect x="687" y="363" width="1" height="15" fill="#ff0000"/>
<rect x="686" y="364" width="3" height="2" fill="#ff0000"/>
<rect x="691" y="359" width="1" height="8" fill="#00ff00"/>
<rect x="690" y="362" width="3" height="4" fill="#00ff00"/>
<rect x="695" y="364" width="1" height="8" fill="#ff0000"/>
<rect x="694" y="367" width="3" height="3" fill="#ff0000"/>
<rect x="699" y="360" width="1" height="5" fill="#ff0000"/>
<rect x="698" y="361" width="3" height="4" fill="#ff0000"/>
<rect x="703" y="359" width="1" height="18" fill="#00ff00"/>
<rect x="702" y="362" width="3" height="13" fill="#00ff00"/>
<rect x="707" y="370" width="1" height="10" fill="#00ff00"/>
<rect x="706" y="373" width="3" height="5" fill="#00ff00"/>
<rect x="711" y="364" width="1" height="15" fill="#ff0000"/>
<rect x="710" y="366" width="3" height="12" fill="#ff0000"/>
<rect x="715" y="363" width="1" height="3" fill="#00ff00"/>
<rect x="714" y="364" width="3" height="2" fill="#00ff00"/>
<rect x="719" y="346" width="1" height="25" fill="#ff0000"/>
<rect x="718" y="354" width="3" height="11" fill="#ff0000"/>
<rect x="723" y="352" width="1" height="9" fill="#00ff00"/>
<rect x="722" y="354" width="3" height="6" fill="#00ff00"/>
<rect x="727" y="350" width="1" height="14" fill="#00ff00"/>
<rect x="726" y="356" width="3" height="6" fill="#00ff00"/>
<rect x="731" y="329" width="1" height="29" fill="#ff0000"/>
<rect x="730" y="341" width="3" height="15" fill="#ff0000"/>
<rect x="735" y="268" width="1" height="78" fill="#ff0000"/>
<rect x="734" y="277" width="3" height="67" fill="#ff0000"/>
<rect x="739" y="268" width="1" height="11" fill="#ff0000"/>
<rect x="738" y="270" width="3" height="9" fill="#ff0000"/>
<rect x="743" y="138" width="1" height="137" fill="#ff0000"/>
<rect x="742" y="152" width="3" height="115" fill="#ff0000"/>
<rect x="747" y="107" width="1" height="98" fill="#00ff00"/>
<rect x="746" y="153" width="3" height="40" fill="#00ff00"/>
<rect x="751" y="149" width="1" height="49" fill="#ff0000"/>
<rect x="750" y="160" width="3" height="33" fill="#ff0000"/>
<rect x="755" y="147" width="1" height="38" fill="#00ff00"/>
<rect x="754" y="160" width="3" height="21" fill="#00ff00"/>
<rect x="759" y="147" width="1" height="35" fill="#ff0000"/>
<rect x="758" y="148" width="3" height="34" fill="#ff0000"/>
<rect x="763" y="138" width="1" height="15" fill="#00ff00"/>
<rect x="762" y="148" width="3" height="5" fill="#00ff00"/>
<rect x="767" y="134" width="1" height="17" fill="#00ff00"/>
<rect x="766" y="145" width="3" height="5" fill="#00ff00"/>
<rect x="771" y="141" width="1" height="115" fill="#00ff00"/>
<rect x="770" y="147" width="3" height="85" fill="#00ff00"/>
<rect x="775" y="195" width="1" height="46" fill="#ff0000"/>
<rect x="774" y="195" width="3" height="38" fill="#ff0000"/>
<rect x="779" y="183" width="1" height="35" fill="#00ff00"/>
<rect x="778" y="196" width="3" height="4" fill="#00ff00"/>
<rect x="783" y="187" width="1" height="19" fill="#00ff00"/>
<rect x="782" y="197" width="3" height="3" fill="#00ff00"/>
<rect x="787" y="193" width="1" height="12" fill="#00ff00"/>
<rect x="786" y="197" width="3" height="7" fill="#00ff00"/>
<rect x="791" y="184" width="1" height="22" fill="#ff0000"/>
<rect x="790" y="184" width="3" height="21" fill="#ff0000"/>
<rect x="795" y="170" width="1" height="15" fill="#ff0000"/>
<rect x="794" y="176" width="3" height="9" fill="#ff0000"/>
<rect x="799" y="174" width="1" height="19" fill="#00ff00"/>
<rect x="798" y="176" width="3" height="7" fill="#00ff00"/>
<rect x="803" y="147" width="1" height="38" fill="#ff0000"/>
<rect x="802" y="156" width="3" height="29" fill="#ff0000"/>
<rect x="807" y="117" width="1" height="42" fill="#ff0000"/>
<rect x="806" y="118" width="3" height="40" fill="#ff0000"/>
<rect x="811" y="108" width="1" height="16" fill="#ff0000"/>
<rect x="810" y="110" width="3" height="10" fill="#ff0000"/>
<rect x="815" y="73" width="1" height="40" fill="#ff0000"/>
<rect x="814" y="76" width="3" height="36" fill="#ff0000"/>
<rect x="819" y="66" width="1" height="29" fill="#00ff00"/>
<rect x="818" y="78" width="3" height="6" fill="#00ff00"/>
<rect x="823" y="71" width="1" height="22" fill="#ff0000"/>
<rect x="822" y="79" width="3" height="5" fill="#ff0000"/>
<rect x="827" y="69" width="1" height="39" fill="#00ff00"/>
<rect x="826" y="79" width="3" height="22" fill="#00ff00"/>
<rect x="831" y="84" width="1" height="25" fill="#ff0000"/>
<rect x="830" y="86" width="3" height="15" fill="#ff0000"/>
<rect x="835" y="78" width="1" height="9" fill="#ff0000"/>
<rect x="834" y="83" width="3" height="4" fill="#ff0000"/>
<rect x="839" y="58" width="1" height="28" fill="#ff0000"/>
<rect x="838" y="59" width="3" height="24" fill="#ff0000"/>
<rect x="843" y="52" width="1" height="18" fill="#00ff00"/>
<rect x="842" y="60" width="3" height="7" fill="#00ff00"/>
<rect x="847" y="66" width="1" height="37" fill="#00ff00"/>
<rect x="846" y="67" width="3" height="34" fill="#00ff00"/>
<rect x="851" y="96" width="1" height="31" fill="#00ff00"/>
<rect x="850" y="101" width="3" height="8" fill="#00ff00"/>
<rect x="855" y="96" width="1" height="56" fill="#00ff00"/>
<rect x="854" y="107" width="3" height="29" fill="#00ff00"/>
<rect x="859" y="134" width="1" height="18" fill="#00ff00"/>
<rect x="858" y="135" width="3" height="8" fill="#00ff00"/>
<rect x="863" y="114" width="1" height="31" fill="#ff0000"/>
<rect x="862" y="128" width="3" height="11" fill="#ff0000"/>
<rect x="867" y="123" width="1" height="27" fill="#00ff00"/>
<rect x="866" y="128" width="3" height="12" fill="#00ff00"/>
<rect x="871" y="128" width="1" height="16" fill="#ff0000"/>
<rect x="870" y="134" width="3" height="10" fill="#ff0000"/>
<rect x="875" y="134" width="1" height="62" fill="#00ff00"/>
<rect x="874" y="136" width="3" height="48" fill="#00ff00"/>
<rect x="879" y="177" width="1" height="40" fill="#00ff00"/>
<rect x="878" y="183" width="3" height="34" fill="#00ff00"/>
<rect x="883" y="202" width="1" height="15" fill="#ff0000"/>
<rect x="882" y="203" width="3" height="14" fill="#ff0000"/>
<rect x="887" y="176" width="1" height="29" fill="#ff0000"/>
<rect x="886" y="181" width="3" height="24" fill="#ff0000"/>
<rect x="891" y="151" width="1" height="36" fill="#ff0000"/>
<rect x="890" y="160" width="3" height="23" fill="#ff0000"/>
<rect x="895" y="158" width="1" height="12" fill="#00ff00"/>
<rect x="894" y="160" width="3" height="8" fill="#00ff00"/>
<rect x="899" y="141" width="1" height="36" fill="#ff0000"/>
<rect x="898" y="147" width="3" height="21" fill="#ff0000"/>
<rect x="903" y="145" width="1" height="28" fill="#00ff00"/>
<rect x="902" y="147" width="3" height="14" fill="#00ff00"/>
<rect x="907" y="116" width="1" height="45" fill="#ff0000"/>
<rect x="906" y="131" width="3" height="30" fill="#ff0000"/>
<rect x="911" y="121" width="1" height="31" fill="#ff0000"/>
<rect x="910" y="128" width="3" height="20" fill="#ff0000"/>
<rect x="915" y="127" width="1" height="23" fill="#00ff00"/>
<rect x="914" y="128" width="3" height="6" fill="#00ff00"/>
<rect x="919" y="112" width="1" height="31" fill="#ff0000"/>
<rect x="918" y="113" width="3" height="16" fill="#ff0000"/>
<rect x="923" y="111" width="1" height="11" fill="#00ff00"/>
<rect x="922" y="115" width="3" height="4" fill="#00ff00"/>
<rect x="927" y="96" width="1" height="38" fill="#ff0000"/>
<rect x="926" y="111" width="3" height="8" fill="#ff0000"/>
<rect x="931" y="98" width="1" height="15" fill="#ff0000"/>
<rect x="930" y="100" width="3" height="12" fill="#ff0000"/>
<rect x="935" y="96" width="1" height="30" fill="#00ff00"/>
<rect x="934" y="100" width="3" height="7" fill="#00ff00"/>
<rect x="939" y="90" width="1" height="24" fill="#ff0000"/>
<rect x="938" y="97" width="3" height="9" fill="#ff0000"/>
<rect x="943" y="88" width="1" height="24" fill="#00ff00"/>
<rect x="942" y="97" width="3" height="5" fill="#00ff00"/>
<rect x="947" y="96" width="1" height="25" fill="#00ff00"/>
<rect x="946" y="98" width="3" height="21" fill="#00ff00"/>
<rect x="951" y="116" width="1" height="24" fill="#00ff00"/>
<rect x="950" y="117" width="3" height="13" fill="#00ff00"/>
<rect x="955" y="131" width="1" height="10" fill="#00ff00"/>
<rect x="954" y="133" width="3" height="7" fill="#00ff00"/>
<rect x="959" y="107" width="1" height="17" fill="#ff0000"/>
<rect x="958" y="116" width="3" height="6" fill="#ff0000"/>
<rect x="963" y="91" width="1" height="38" fill="#ff0000"/>
<rect x="962" y="93" width="3" height="24" fill="#ff0000"/>
<rect x="967" y="79" width="1" height="43" fill="#00ff00"/>
<rect x="966" y="94" width="3" height="14" fill="#00ff00"/>
<rect x="971" y="79" width="1" height="71" fill="#00ff00"/>
<rect x="970" y="106" width="3" height="39" fill="#00ff00"/>
<rect x="975" y="143" width="1" height="28" fill="#00ff00"/>
<rect x="974" y="144" width="3" height="22" fill="#00ff00"/>
<rect x="979" y="156" width="1" height="19" fill="#00ff00"/>
<rect x="978" y="165" width="3" height="8" fill="#00ff00"/>
<rect x="983" y="158" width="1" height="40" fill="#00ff00"/>
<rect x="982" y="171" width="3" height="8" fill="#00ff00"/>
<rect x="987" y="158" width="1" height="27" fill="#ff0000"/>
<rect x="986" y="163" width="3" height="16" fill="#ff0000"/>
<rect x="991" y="134" width="1" height="35" fill="#ff0000"/>
<rect x="990" y="149" width="3" height="16" fill="#ff0000"/>
<rect x="995" y="139" width="1" height="42" fill="#00ff00"/>
<rect x="994" y="149" width="3" height="17" fill="#00ff00"/>
<rect x="999" y="159" width="1" height="19" fill="#00ff00"/>
<rect x="998" y="165" width="3" height="4" fill="#00ff00"/>
<rect x="1003" y="162" width="1" height="13" fill="#00ff00"/>
<rect x="1002" y="168" width="3" height="7" fill="#00ff00"/>
<rect x="1007" y="173" width="1" height="13" fill="#00ff00"/>
<rect x="1006" y="175" width="3" height="3" fill="#00ff00"/>
<rect x="1011" y="164" width="1" height="20" fill="#ff0000"/>
<rect x="1010" y="173" width="3" height="5" fill="#ff0000"/>
<rect x="1015" y="161" width="1" height="24" fill="#00ff00"/>
<rect x="1014" y="172" width="3" height="12" fill="#00ff00"/>
<rect x="1019" y="173" width="1" height="22" fill="#ff0000"/>
<rect x="1018" y="177" width="3" height="7" fill="#ff0000"/>
<rect x="1023" y="173" width="1" height="21" fill="#00ff00"/>
<rect x="1022" y="178" width="3" height="12" fill="#00ff00"/>
<rect x="1027" y="188" width="1" height="9" fill="#00ff00"/>
<rect x="1026" y="189" width="3" height="7" fill="#00ff00"/>
<rect x="1031" y="182" width="1" height="18" fill="#ff0000"/>
<rect x="1030" y="184" width="3" height="16" fill="#ff0000"/>
<rect x="1035" y="180" width="1" height="11" fill="#ff0000"/>
<rect x="1034" y="183" width="3" height="3" fill="#ff0000"/>
<rect x="1039" y="177" width="1" height="16" fill="#00ff00"/>
<rect x="1038" y="183" width="3" height="7" fill="#00ff00"/>
<rect x="1043" y="182" width="1" height="36" fill="#00ff00"/>
<rect x="1042" y="190" width="3" height="13" fill="#00ff00"/>
<rect x="1047" y="195" width="1" height="17" fill="#00ff00"/>
<rect x="1046" y="201" width="3" height="9" fill="#00ff00"/>
<rect x="1051" y="203" width="1" height="8" fill="#ff0000"/>
<rect x="1050" y="205" width="3" height="5" fill="#ff0000"/>
<rect x="1055" y="207" width="1" height="18" fill="#00ff00"/>
<rect x="1054" y="210" width="3" height="10" fill="#00ff00"/>
<rect x="1059" y="211" width="1" height="50" fill="#00ff00"/>
<rect x="1058" y="212" width="3" height="33" fill="#00ff00"/>
<rect x="1063" y="242" width="1" height="17" fill="#00ff00"/>
<rect x="1062" y="246" width="3" height="4" fill="#00ff00"/>
<rect x="1067" y="226" width="1" height="57" fill="#00ff00"/>
<rect x="1066" y="247" width="3" height="26" fill="#00ff00"/>
<rect x="1071" y="243" width="1" height="53" fill="#ff0000"/>
<rect x="1070" y="253" width="3" height="20" fill="#ff0000"/>
<rect x="1075" y="251" width="1" height="8" fill="#00ff00"/>
<rect x="1074" y="254" width="3" height="5" fill="#00ff00"/>
<rect x="1079" y="233" width="1" height="26" fill="#ff0000"/>
<rect x="1078" y="235" width="3" height="24" fill="#ff0000"/>
<rect x="1083" y="232" width="1" height="24" fill="#ff0000"/>
<rect x="1082" y="237" width="3" height="17" fill="#ff0000"/>
<rect x="1087" y="216" width="1" height="22" fill="#ff0000"/>
<rect x="1086" y="220" width="3" height="16" fill="#ff0000"/>
<rect x="1091" y="209" width="1" height="22" fill="#ff0000"/>
<rect x="1090" y="220" width="3" height="2" fill="#ff0000"/>
<rect x="1095" y="217" width="1" height="31" fill="#00ff00"/>
<rect x="1094" y="220" width="3" height="26" fill="#00ff00"/>
<rect x="1099" y="240" width="1" height="5" fill="#ff0000"/>
<rect x="1098" y="242" width="3" height="3" fill="#ff0000"/>
<rect x="1103" y="214" width="1" height="24" fill="#ff0000"/>
<rect x="1102" y="220" width="3" height="18" fill="#ff0000"/>
<rect x="1107" y="214" width="1" height="14" fill="#ff0000"/>
<rect x="1106" y="216" width="3" height="6" fill="#ff0000"/>
<rect x="1111" y="203" width="1" height="17" fill="#ff0000"/>
<rect x="1110" y="209" width="3" height="9" fill="#ff0000"/>
<rect x="1115" y="193" width="1" height="27" fill="#00ff00"/>
<rect x="1114" y="207" width="3" height="8" fill="#00ff00"/>
<rect x="1119" y="198" width="1" height="27" fill="#ff0000"/>
<rect x="1118" y="200" width="3" height="11" fill="#ff0000"/>
<rect x="1123" y="200" width="1" height="11" fill="#00ff00"/>
<rect x="1122" y="201" width="3" height="5" fill="#00ff00"/>
<rect x="1127" y="202" width="1" height="23" fill="#00ff00"/>
<rect x="1126" y="203" width="3" height="14" fill="#00ff00"/>
<rect x="1131" y="204" width="1" height="27" fill="#00ff00"/>
<rect x="1130" y="216" width="3" height="12" fill="#00ff00"/>
<rect x="1135" y="223" width="1" height="17" fill="#00ff00"/>
<rect x="1134" y="226" width="3" height="3" fill="#00ff00"/>
<rect x="1139" y="212" width="1" height="23" fill="#ff0000"/>
<rect x="1138" y="214" width="3" height="14" fill="#ff0000"/>
<rect x="1143" y="208" width="1" height="17" fill="#00ff00"/>
<rect x="1142" y="214" width="3" height="5" fill="#00ff00"/>
<rect x="1147" y="213" width="1" height="7" fill="#ff0000"/>
<rect x="1146" y="214" width="3" height="5" fill="#ff0000"/>
<rect x="1151" y="201" width="1" height="21" fill="#ff0000"/>
<rect x="1150" y="202" width="3" height="16" fill="#ff0000"/>
<rect x="1155" y="160" width="1" height="45" fill="#ff0000"/>
<rect x="1154" y="171" width="3" height="31" fill="#ff0000"/>
<rect x="1159" y="165" width="1" height="43" fill="#00ff00"/>
<rect x="1158" y="170" width="3" height="28" fill="#00ff00"/>
<rect x="1163" y="188" width="1" height="19" fill="#00ff00"/>
<rect x="1162" y="199" width="3" height="7" fill="#00ff00"/>
<rect x="1167" y="198" width="1" height="26" fill="#00ff00"/>
<rect x="1166" y="203" width="3" height="14" fill="#00ff00"/>
<rect x="1171" y="208" width="1" height="18" fill="#00ff00"/>
<rect x="1170" y="214" width="3" height="10" fill="#00ff00"/>
<rect x="1175" y="205" width="1" height="15" fill="#ff0000"/>
<rect x="1174" y="208" width="3" height="12" fill="#ff0000"/>
<rect x="1179" y="206" width="1" height="15" fill="#00ff00"/>
<rect x="1178" y="211" width="3" height="5" fill="#00ff00"/>
<rect x="1183" y="206" width="1" height="16" fill="#ff0000"/>
<rect x="1182" y="211" width="3" height="7" fill="#ff0000"/>
<rect x="1187" y="207" width="1" height="79" fill="#00ff00"/>
<rect x="1186" y="212" width="3" height="57" fill="#00ff00"/>
<rect x="1191" y="227" width="1" height="99" fill="#ff0000"/>
<rect x="1190" y="232" width="3" height="37" fill="#ff0000"/>
<rect x="1195" y="223" width="1" height="24" fill="#00ff00"/>
<rect x="1194" y="232" width="3" height="10" fill="#00ff00"/>
<rect x="1199" y="239" width="1" height="22" fill="#00ff00"/>
<rect x="1198" y="244" width="3" height="14" fill="#00ff00"/>
<rect x="1203" y="241" width="1" height="18" fill="#ff0000"/>
<rect x="1202" y="250" width="3" height="9" fill="#ff0000"/>
<rect x="1207" y="239" width="1" height="19" fill="#ff0000"/>
<rect x="1206" y="246" width="3" height="11" fill="#ff0000"/>
<rect x="1211" y="241" width="1" height="17" fill="#ff0000"/>
<rect x="1210" y="244" width="3" height="5" fill="#ff0000"/>
<rect x="1215" y="235" width="1" height="17" fill="#00ff00"/>
<rect x="1214" y="245" width="3" height="4" fill="#00ff00"/>
<rect x="1219" y="233" width="1" height="16" fill="#ff0000"/>
<rect x="1218" y="243" width="3" height="5" fill="#ff0000"/>
<rect x="1223" y="233" width="1" height="16" fill="#ff0000"/>
<rect x="1222" y="238" width="3" height="7" fill="#ff0000"/>
<rect x="1227" y="233" width="1" height="12" fill="#00ff00"/>
<rect x="1226" y="238" width="3" height="5" fill="#00ff00"/>
<rect x="1231" y="241" width="1" height="6" fill="#00ff00"/>
<rect x="1230" y="242" width="3" height="4" fill="#00ff00"/>
<rect x="1235" y="247" width="1" height="14" fill="#00ff00"/>
<rect x="1234" y="253" width="3" height="5" fill="#00ff00"/>
<rect x="1239" y="248" width="1" height="11" fill="#ff0000"/>
<rect x="1238" y="251" width="3" height="7" fill="#ff0000"/>
<rect x="1243" y="250" width="1" height="8" fill="#00ff00"/>
<rect x="1242" y="252" width="3" height="5" fill="#00ff00"/>
<rect x="1247" y="253" width="1" height="21" fill="#00ff00"/>
<rect x="1246" y="255" width="3" height="15" fill="#00ff00"/>
<rect x="1251" y="263" width="1" height="27" fill="#00ff00"/>
<rect x="1250" y="268" width="3" height="16" fill="#00ff00"/>
<rect x="1255" y="280" width="1" height="13" fill="#00ff00"/>
<rect x="1254" y="282" width="3" height="9" fill="#00ff00"/>
<rect x="1259" y="276" width="1" height="16" fill="#00ff00"/>
<rect x="1258" y="282" width="3" height="8" fill="#00ff00"/>
<rect x="1263" y="272" width="1" height="20" fill="#ff0000"/>
<rect x="1262" y="284" width="3" height="5" fill="#ff0000"/>
<rect x="1267" y="281" width="1" height="7" fill="#ff0000"/>
<rect x="1266" y="283" width="3" height="2" fill="#ff0000"/>
<rect x="1271" y="269" width="1" height="19" fill="#ff0000"/>
<rect x="1270" y="276" width="3" height="7" fill="#ff0000"/>
<rect x="1275" y="274" width="1" height="44" fill="#00ff00"/>
<rect x="1274" y="276" width="3" height="28" fill="#00ff00"/>
<rect x="1279" y="282" width="1" height="31" fill="#ff0000"/>
<rect x="1278" y="302" width="3" height="4" fill="#ff0000"/>
<rect x="1283" y="301" width="1" height="30" fill="#00ff00"/>
<rect x="1282" y="303" width="3" height="17" fill="#00ff00"/>
<rect x="1287" y="312" width="1" height="25" fill="#00ff00"/>
<rect x="1286" y="318" width="3" height="17" fill="#00ff00"/>
<rect x="1291" y="330" width="1" height="7" fill="#00ff00"/>
<rect x="1290" y="332" width="3" height="5" fill="#00ff00"/>
<rect x="1295" y="332" width="1" height="29" fill="#00ff00"/>
<rect x="1294" y="334" width="3" height="27" fill="#00ff00"/>
<rect x="1299" y="356" width="1" height="25" fill="#00ff00"/>
<rect x="1298" y="358" width="3" height="6" fill="#00ff00"/>
<rect x="1303" y="342" width="1" height="27" fill="#ff0000"/>
<rect x="1302" y="349" width="3" height="16" fill="#ff0000"/>
</g>
<rect x="3" y="42" width="1636" height="2" fill="#ff0000"/>
<rect x="2" y="40" width="6" height="6" fill="#ff0000"/>
<rect x="4" y="42" width="2" height="2" fill="#fff"/>
<rect x="1633" y="40" width="6" height="6" fill="#ff0000"/>
<rect x="1635" y="42" width="2" height="2" fill="#fff"/>
<rect x="3" y="144" width="1636" height="2" fill="#ff0000"/>
<rect x="2" y="142" width="6" height="6" fill="#ff0000"/>
<rect x="4" y="144" width="2" height="2" fill="#fff"/>
<rect x="1633" y="142" width="6" height="6" fill="#ff0000"/>
<rect x="1635" y="144" width="2" height="2" fill="#fff"/>
<rect x="3" y="244" width="1636" height="2" fill="#00ff00"/>
<rect x="2" y="242" width="6" height="6" fill="#00ff00"/>
<rect x="4" y="244" width="2" height="2" fill="#fff"/>
<rect x="1633" y="242" width="6" height="6" fill="#00ff00"/>
<rect x="1635" y="244" width="2" height="2" fill="#fff"/>
<rect x="3" y="362" width="1636" height="2" fill="#0000ff"/>
<rect x="2" y="360" width="6" height="6" fill="#0000ff"/>
<rect x="4" y="362" width="2" height="2" fill="#fff"/>
<rect x="1633" y="360" width="6" height="6" fill="#0000ff"/>
<rect x="1635" y="362" width="2" height="2" fill="#fff"/>
<rect x="3" y="483" width="1636" height="2" fill="#0000ff"/>
<rect x="2" y="481" width="6" height="6" fill="#0000ff"/>
<rect x="4" y="483" width="2" height="2" fill="#fff"/>
<rect x="1633" y="481" width="6" height="6" fill="#0000ff"/>
<rect x="1635" y="483" width="2" height="2" fill="#fff"/>
<rect x="1640" y="26" width="2" height="1" fill="#000"/>
<text x="1645" y="30" font-size="9.6" fill="#000" textLength="33" lengthAdjust="spacingAndGlyphs" stroke="#000" stroke-width="0.3" text-anchor="start">7.21925</text>
<rect x="1640" y="59" width="2" height="1" fill="#000"/>
<text x="1645" y="63" font-size="9.6" fill="#000" textLength="33" lengthAdjust="spacingAndGlyphs" stroke="#000" stroke-width="0.3" text-anchor="start">7.18600</text>
<rect x="1640" y="92" width="2" height="1" fill="#000"/>
<text x="1645" y="96" font-size="9.6" fill="#000" textLength="33" lengthAdjust="spacingAndGlyphs" stroke="#000" stroke-width="0.3" text-anchor="start">7.15370</text>
<rect x="1640" y="125" width="2" height="1" fill="#000"/>
<text x="1645" y="129" font-size="9.6" fill="#000" textLength="33" lengthAdjust="spacingAndGlyphs" stroke="#000" stroke-width="0.3" text-anchor="start">7.12045</text>
<rect x="1640" y="158" width="2" height="1" fill="#000"/>
<text x="1645" y="162" font-size="9.6" fill="#000" textLength="33" lengthAdjust="spacingAndGlyphs" stroke="#000" stroke-width="0.3" text-anchor="start">7.08720</text>
<rect x="1640" y="191" width="2" height="1" fill="#000"/>
<text x="1645" y="195" font-size="9.6" fill="#000" textLength="33" lengthAdjust="spacingAndGlyphs" stroke="#000" stroke-width="0.3" text-anchor="start">7.05395</text>
<rect x="1640" y="224" width="2" height="1" fill="#000"/>
<text x="1645" y="228" font-size="9.6" fill="#000" textLength="33" lengthAdjust="spacingAndGlyphs" stroke="#000" stroke-width="0.3" text-anchor="start">7.02165</text>
<rect x="1640" y="257" width="2" height="1" fill="#000"/>
<text x="1645" y="261" font-size="9.6" fill="#000" textLength="33" lengthAdjust="spacingAndGlyphs" stroke="#000" stroke-width="0.3" text-anchor="start">6.98840</text>
<rect x="1640" y="290" width="2" height="1" fill="#000"/>
<text x="1645" y="294" font-size="9.6" fill="#000" textLength="33" lengthAdjust="spacingAndGlyphs" stroke="#000" stroke-width="0.3" text-anchor="start">6.95515</text>
<rect x="1640" y="323" width="2" height="1" fill="#000"/>
<text x="1645" y="327" font-size="9.6" fill="#000" textLength="33" lengthAdjust="spacingAndGlyphs" stroke="#000" stroke-width="0.3" text-anchor="start">6.92285</text>
<rect x="1640" y="356" width="2" height="1" fill="#000"/>
<text x="1645" y="360" font-size="9.6" fill="#000" textLength="33" lengthAdjust="spacingAndGlyphs" stroke="#000" stroke-width="0.3" text-anchor="start">6.88955</text>
<rect x="1640" y="389" width="2" height="1" fill="#000"/>
<text x="1645" y="393" font-size="9.6" fill="#000" textLength="33" lengthAdjust="spacingAndGlyphs" stroke="#000" stroke-width="0.3" text-anchor="start">6.85635</text>
<rect x="1640" y="422" width="2" height="1" fill="#000"/>
<text x="1645" y="426" font-size="9.6" fill="#000" textLength="33" lengthAdjust="spacingAndGlyphs" stroke="#000" stroke-width="0.3" text-anchor="start">6.82310</text>
<rect x="1640" y="455" width="2" height="1" fill="#000"/>
<text x="1645" y="459" font-size="9.6" fill="#000" textLength="33" lengthAdjust="spacingAndGlyphs" stroke="#000" stroke-width="0.3" text-anchor="start">6.79080</text>
<rect x="1640" y="488" width="2" height="1" fill="#000"/>
<text x="1645" y="492" font-size="9.6" fill="#000" textLength="33" lengthAdjust="spacingAndGlyphs" stroke="#000" stroke-width="0.3" text-anchor="start">6.75755</text>
<rect x="1640" y="521" width="2" height="1" fill="#000"/>
<text x="1645" y="525" font-size="9.6" fill="#000" textLength="33" lengthAdjust="spacingAndGlyphs" stroke="#000" stroke-width="0.3" text-anchor="start">6.72430</text>
<rect x="1640" y="554" width="2" height="1" fill="#000"/>
<text x="1645" y="558" font-size="9.6" fill="#000" textLength="33" lengthAdjust="spacingAndGlyphs" stroke="#000" stroke-width="0.3" text-anchor="start">6.69105</text>
<rect x="1640" y="587" width="2" height="1" fill="#000"/>
<text x="1645" y="591" font-size="9.6" fill="#000" textLength="33" lengthAdjust="spacingAndGlyphs" stroke="#000" stroke-width="0.3" text-anchor="start">6.65875</text>
<rect x="1641" y="37" width="41" height="11" fill="#ff0000"/>
<text x="1645" y="46" font-size="9.6" fill="#fff" textLength="33" lengthAdjust="spacingAndGlyphs" stroke="#fff" stroke-width="0.3" text-anchor="start">7.20193</text>
<rect x="1641" y="139" width="41" height="11" fill="#ff0000"/>
<text x="1645" y="148" font-size="9.6" fill="#fff" textLength="33" lengthAdjust="spacingAndGlyphs" stroke="#fff" stroke-width="0.3" text-anchor="start">7.10011</text>
<rect x="1641" y="239" width="41" height="11" fill="#00ff00"/>
<text x="1645" y="248" font-size="9.6" fill="#fff" textLength="33" lengthAdjust="spacingAndGlyphs" stroke="#fff" stroke-width="0.3" text-anchor="start">7.00029</text>
<rect x="1641" y="357" width="41" height="11" fill="#0000ff"/>
<text x="1645" y="366" font-size="9.6" fill="#fff" textLength="33" lengthAdjust="spacingAndGlyphs" stroke="#fff" stroke-width="0.3" text-anchor="start">6.88250</text>
<rect x="1641" y="478" width="41" height="11" fill="#0000ff"/>
<text x="1645" y="487" font-size="9.6" fill="#fff" textLength="33" lengthAdjust="spacingAndGlyphs" stroke="#fff" stroke-width="0.3" text-anchor="start">6.76171</text>
<rect x="1641" y="344" width="41" height="11" fill="#000"/>
<text x="1645" y="353" font-size="9.6" fill="#fff" textLength="33" lengthAdjust="spacingAndGlyphs" stroke="#fff" stroke-width="0.3" text-anchor="start">6.89590</text>
<path d="M6 30 L13 30 L9.5 33.5 Z" fill="#000"/>
<text x="18.5" y="35" font-size="9.6" fill="#000" textLength="65.5" lengthAdjust="spacingAndGlyphs" stroke="#000" stroke-width="0.3" text-anchor="start">USDCNH,Daily</text>
<text x="90" y="35" font-size="9.6" fill="#000" textLength="32.5" lengthAdjust="spacingAndGlyphs" stroke="#000" stroke-width="0.3" text-anchor="start">6.88179</text>
<text x="126.2" y="35" font-size="9.6" fill="#000" textLength="32.5" lengthAdjust="spacingAndGlyphs" stroke="#000" stroke-width="0.3" text-anchor="start">6.90423</text>
<text x="162" y="35" font-size="9.6" fill="#000" textLength="32.5" lengthAdjust="spacingAndGlyphs" stroke="#000" stroke-width="0.3" text-anchor="start">6.87700</text>
<text x="198" y="35" font-size="9.6" fill="#000" textLength="33" lengthAdjust="spacingAndGlyphs" stroke="#000" stroke-width="0.3" text-anchor="start">6.89590</text>
<path d="M1306 24 L1315 24 L1310.5 29 Z" fill="#c0c0c0"/>
<g clip-path="url(#cr)">
<line x1="4" y1="624.5" x2="1639" y2="624.5" stroke="#c0c0c0" stroke-width="1" stroke-dasharray="3,3"/>
<line x1="4" y1="665.5" x2="1639" y2="665.5" stroke="#c0c0c0" stroke-width="1" stroke-dasharray="3,3"/>
<polyline points="3.5,648.0 7.5,652.3 11.5,652.5 15.5,653.0 19.5,654.0 23.5,657.5 27.5,658.2 31.5,652.7 35.5,650.2 39.5,655.2 43.5,656.8 47.5,661.6 51.5,657.5 55.5,666.3 59.5,671.7 63.5,675.1 67.5,674.5 71.5,672.4 75.5,670.9 79.5,671.7 83.5,659.3 87.5,659.1 91.5,654.3 95.5,655.0 99.5,651.0 103.5,655.5 107.5,654.0 111.5,664.1 115.5,664.6 119.5,663.5 123.5,665.2 127.5,669.0 131.5,672.1 135.5,655.2 139.5,654.1 143.5,647.6 147.5,652.5 151.5,647.7 155.5,646.5 159.5,645.8 163.5,645.0 167.5,640.4 171.5,647.5 175.5,647.1 179.5,644.6 183.5,646.4 187.5,649.3 191.5,647.5 195.5,651.0 199.5,662.0 203.5,658.4 207.5,660.6 211.5,662.7 215.5,666.4 219.5,661.1 223.5,662.7 227.5,658.8 231.5,654.3 235.5,652.1 239.5,653.5 243.5,655.3 247.5,650.7 251.5,647.8 255.5,646.4 259.5,645.8 263.5,644.7 267.5,652.0 271.5,653.6 275.5,648.2 279.5,650.9 283.5,650.9 287.5,647.0 291.5,650.6 295.5,654.6 299.5,651.7 303.5,644.1 307.5,643.8 311.5,647.5 315.5,645.2 319.5,639.2 323.5,638.5 327.5,646.6 331.5,646.0 335.5,648.2 339.5,642.8 343.5,649.2 347.5,648.6 351.5,649.8 355.5,650.8 359.5,645.9 363.5,647.5 367.5,645.1 371.5,641.7 375.5,649.8 379.5,651.0 383.5,651.9 387.5,647.2 391.5,657.8 395.5,647.9 399.5,648.8 403.5,645.4 407.5,641.1 411.5,639.3 415.5,632.8 419.5,641.4 423.5,639.3 427.5,639.3 431.5,638.4 435.5,644.6 439.5,637.9 443.5,641.6 447.5,641.7 451.5,641.4 455.5,614.2 459.5,617.1 463.5,616.8 467.5,615.9 471.5,613.8 475.5,613.7 479.5,615.3 483.5,617.2 487.5,617.8 491.5,619.8 495.5,623.9 499.5,625.3 503.5,627.4 507.5,625.6 511.5,622.7 515.5,627.9 519.5,625.8 523.5,626.6 527.5,628.5 531.5,628.3 535.5,628.0 539.5,630.8 543.5,625.9 547.5,625.7 551.5,628.5 555.5,634.7 559.5,633.6 563.5,633.1 567.5,631.6 571.5,632.3 575.5,632.7 579.5,647.2 583.5,647.9 587.5,662.1 591.5,656.6 595.5,658.3 599.5,654.5 603.5,652.2 607.5,651.1 611.5,652.7 615.5,654.7 619.5,654.7 623.5,657.0 627.5,647.4 631.5,647.0 635.5,651.0 639.5,641.3 643.5,642.4 647.5,646.8 651.5,643.4 655.5,651.3 659.5,650.8 663.5,647.7 667.5,647.9 671.5,649.3 675.5,647.8 679.5,650.4 683.5,644.9 687.5,645.8 691.5,646.6 695.5,647.3 699.5,644.1 703.5,651.1 707.5,652.3 711.5,646.0 715.5,645.3 719.5,639.5 723.5,642.6 727.5,643.7 731.5,634.4 735.5,618.4 739.5,617.3 743.5,607.2 747.5,619.5 751.5,616.8 755.5,622.3 759.5,619.3 763.5,620.5 767.5,620.2 771.5,638.8 775.5,634.2 779.5,634.9 783.5,634.9 787.5,635.8 791.5,633.1 795.5,631.8 799.5,633.4 803.5,629.6 807.5,624.9 811.5,624.1 815.5,620.5 819.5,622.4 823.5,622.1 827.5,627.9 831.5,626.1 835.5,625.7 839.5,622.6 843.5,624.9 847.5,634.4 851.5,636.4 855.5,642.7 859.5,644.3 863.5,641.5 867.5,644.0 871.5,642.8 875.5,653.1 879.5,658.4 883.5,655.3 887.5,650.2 891.5,645.8 895.5,647.2 899.5,643.1 903.5,645.9 907.5,640.2 911.5,639.7 915.5,640.8 919.5,637.0 923.5,638.1 927.5,636.9 931.5,634.5 935.5,636.4 939.5,634.5 943.5,635.7 947.5,641.1 951.5,644.5 955.5,647.2 959.5,640.9 963.5,635.6 967.5,639.9 971.5,649.2 975.5,653.4 979.5,654.7 983.5,655.9 987.5,651.5 991.5,647.6 995.5,651.3 999.5,652.1 1003.5,653.3 1007.5,654.0 1011.5,652.7 1015.5,655.4 1019.5,653.2 1023.5,656.2 1027.5,657.8 1031.5,653.1 1035.5,652.8 1039.5,654.7 1043.5,658.4 1047.5,660.3 1051.5,658.2 1055.5,662.0 1059.5,667.4 1063.5,668.3 1067.5,672.3 1071.5,663.7 1075.5,664.5 1079.5,655.5 1083.5,655.9 1087.5,649.7 1091.5,649.7 1095.5,656.5 1099.5,655.4 1103.5,647.5 1107.5,646.1 1111.5,644.1 1115.5,645.6 1119.5,640.8 1123.5,642.9 1127.5,646.7 1131.5,650.5 1135.5,650.8 1139.5,645.2 1143.5,646.9 1147.5,645.1 1151.5,640.7 1155.5,631.5 1159.5,641.3 1163.5,643.9 1167.5,647.3 1171.5,649.4 1175.5,644.6 1179.5,646.7 1183.5,645.4 1187.5,660.1 1191.5,649.2 1195.5,651.1 1199.5,654.5 1203.5,652.4 1207.5,651.4 1211.5,650.7 1215.5,651.7 1219.5,650.2 1223.5,648.3 1227.5,649.4 1231.5,650.6 1235.5,654.2 1239.5,651.9 1243.5,653.4 1247.5,657.5 1251.5,661.2 1255.5,663.0 1259.5,662.5 1263.5,659.6 1267.5,659.1 1271.5,655.2 1275.5,663.5 1279.5,663.0 1283.5,667.2 1287.5,670.3 1291.5,670.6 1295.5,674.8 1299.5,675.2 1303.5,667.4" fill="none" stroke="#1e90ff" stroke-width="1"/>
</g>
<text x="7" y="605" font-size="9.6" fill="#000" textLength="68" lengthAdjust="spacingAndGlyphs" stroke="#000" stroke-width="0.3" text-anchor="start">RSI(14) 27.2014</text>
<rect x="1640" y="594" width="1" height="1" fill="#000"/>
<rect x="1640" y="695" width="1" height="1" fill="#000"/>
<text x="1643.3" y="603" font-size="9.6" fill="#000" textLength="15" lengthAdjust="spacingAndGlyphs" stroke="#000" stroke-width="0.3" text-anchor="start">100</text>
<text x="1642" y="628" font-size="9.6" fill="#000" textLength="10.3" lengthAdjust="spacingAndGlyphs" stroke="#000" stroke-width="0.3" text-anchor="start">70</text>
<text x="1642" y="669" font-size="9.6" fill="#000" textLength="10" lengthAdjust="spacingAndGlyphs" stroke="#000" stroke-width="0.3" text-anchor="start">30</text>
<text x="1643.2" y="693" font-size="9.6" fill="#000" textLength="5.2" lengthAdjust="spacingAndGlyphs" stroke="#000" stroke-width="0.3" text-anchor="start">0</text>
<g clip-path="url(#cd)">
<rect x="3" y="761" width="1" height="5" fill="#c0c0c0"/>
<rect x="7" y="761" width="1" height="6" fill="#c0c0c0"/>
<rect x="11" y="761" width="1" height="7" fill="#c0c0c0"/>
<rect x="15" y="761" width="1" height="7" fill="#c0c0c0"/>
<rect x="19" y="761" width="1" height="8" fill="#c0c0c0"/>
<rect x="23" y="761" width="1" height="10" fill="#c0c0c0"/>
<rect x="27" y="761" width="1" height="11" fill="#c0c0c0"/>
<rect x="31" y="761" width="1" height="11" fill="#c0c0c0"/>
<rect x="35" y="761" width="1" height="10" fill="#c0c0c0"/>
<rect x="39" y="761" width="1" height="11" fill="#c0c0c0"/>
<rect x="43" y="761" width="1" height="11" fill="#c0c0c0"/>
<rect x="47" y="761" width="1" height="13" fill="#c0c0c0"/>
<rect x="51" y="761" width="1" height="13" fill="#c0c0c0"/>
<rect x="55" y="761" width="1" height="17" fill="#c0c0c0"/>
<rect x="59" y="761" width="1" height="21" fill="#c0c0c0"/>
<rect x="63" y="761" width="1" height="27" fill="#c0c0c0"/>
<rect x="67" y="761" width="1" height="31" fill="#c0c0c0"/>
<rect x="71" y="761" width="1" height="33" fill="#c0c0c0"/>
<rect x="75" y="761" width="1" height="35" fill="#c0c0c0"/>
<rect x="79" y="761" width="1" height="36" fill="#c0c0c0"/>
<rect x="83" y="761" width="1" height="34" fill="#c0c0c0"/>
<rect x="87" y="761" width="1" height="32" fill="#c0c0c0"/>
<rect x="91" y="761" width="1" height="29" fill="#c0c0c0"/>
<rect x="95" y="761" width="1" height="27" fill="#c0c0c0"/>
<rect x="99" y="761" width="1" height="24" fill="#c0c0c0"/>
<rect x="103" y="761" width="1" height="23" fill="#c0c0c0"/>
<rect x="107" y="761" width="1" height="22" fill="#c0c0c0"/>
<rect x="111" y="761" width="1" height="24" fill="#c0c0c0"/>
<rect x="115" y="761" width="1" height="25" fill="#c0c0c0"/>
<rect x="119" y="761" width="1" height="26" fill="#c0c0c0"/>
<rect x="123" y="761" width="1" height="27" fill="#c0c0c0"/>
<rect x="127" y="761" width="1" height="29" fill="#c0c0c0"/>
<rect x="131" y="761" width="1" height="31" fill="#c0c0c0"/>
<rect x="135" y="761" width="1" height="30" fill="#c0c0c0"/>
<rect x="139" y="761" width="1" height="28" fill="#c0c0c0"/>
<rect x="143" y="761" width="1" height="24" fill="#c0c0c0"/>
<rect x="147" y="761" width="1" height="23" fill="#c0c0c0"/>
<rect x="151" y="761" width="1" height="20" fill="#c0c0c0"/>
<rect x="155" y="761" width="1" height="18" fill="#c0c0c0"/>
<rect x="159" y="761" width="1" height="15" fill="#c0c0c0"/>
<rect x="163" y="761" width="1" height="13" fill="#c0c0c0"/>
<rect x="167" y="761" width="1" height="9" fill="#c0c0c0"/>
<rect x="171" y="761" width="1" height="9" fill="#c0c0c0"/>
<rect x="175" y="761" width="1" height="8" fill="#c0c0c0"/>
<rect x="179" y="761" width="1" height="7" fill="#c0c0c0"/>
<rect x="183" y="761" width="1" height="6" fill="#c0c0c0"/>
<rect x="187" y="761" width="1" height="6" fill="#c0c0c0"/>
<rect x="191" y="761" width="1" height="6" fill="#c0c0c0"/>
<rect x="195" y="761" width="1" height="7" fill="#c0c0c0"/>
<rect x="199" y="761" width="1" height="11" fill="#c0c0c0"/>
<rect x="203" y="761" width="1" height="13" fill="#c0c0c0"/>
<rect x="207" y="761" width="1" height="16" fill="#c0c0c0"/>
<rect x="211" y="761" width="1" height="19" fill="#c0c0c0"/>
<rect x="215" y="761" width="1" height="22" fill="#c0c0c0"/>
<rect x="219" y="761" width="1" height="24" fill="#c0c0c0"/>
<rect x="223" y="761" width="1" height="25" fill="#c0c0c0"/>
<rect x="227" y="761" width="1" height="26" fill="#c0c0c0"/>
<rect x="231" y="761" width="1" height="24" fill="#c0c0c0"/>
<rect x="235" y="761" width="1" height="23" fill="#c0c0c0"/>
<rect x="239" y="761" width="1" height="21" fill="#c0c0c0"/>
<rect x="243" y="761" width="1" height="21" fill="#c0c0c0"/>
<rect x="247" y="761" width="1" height="19" fill="#c0c0c0"/>
<rect x="251" y="761" width="1" height="17" fill="#c0c0c0"/>
<rect x="255" y="761" width="1" height="15" fill="#c0c0c0"/>
<rect x="259" y="761" width="1" height="13" fill="#c0c0c0"/>
<rect x="263" y="761" width="1" height="11" fill="#c0c0c0"/>
<rect x="267" y="761" width="1" height="11" fill="#c0c0c0"/>
<rect x="271" y="761" width="1" height="11" fill="#c0c0c0"/>
<rect x="275" y="761" width="1" height="10" fill="#c0c0c0"/>
<rect x="279" y="761" width="1" height="10" fill="#c0c0c0"/>
<rect x="283" y="761" width="1" height="10" fill="#c0c0c0"/>
<rect x="287" y="761" width="1" height="9" fill="#c0c0c0"/>
<rect x="291" y="761" width="1" height="9" fill="#c0c0c0"/>
<rect x="295" y="761" width="1" height="9" fill="#c0c0c0"/>
<rect x="299" y="761" width="1" height="9" fill="#c0c0c0"/>
<rect x="303" y="761" width="1" height="8" fill="#c0c0c0"/>
<rect x="307" y="761" width="1" height="6" fill="#c0c0c0"/>
<rect x="311" y="761" width="1" height="6" fill="#c0c0c0"/>
<rect x="315" y="761" width="1" height="5" fill="#c0c0c0"/>
<rect x="319" y="761" width="1" height="3" fill="#c0c0c0"/>
<rect x="323" y="761" width="1" height="1" fill="#c0c0c0"/>
<rect x="327" y="761" width="1" height="2" fill="#c0c0c0"/>
<rect x="331" y="761" width="1" height="2" fill="#c0c0c0"/>
<rect x="335" y="761" width="1" height="2" fill="#c0c0c0"/>
<rect x="339" y="761" width="1" height="1" fill="#c0c0c0"/>
<rect x="343" y="761" width="1" height="2" fill="#c0c0c0"/>
<rect x="347" y="761" width="1" height="3" fill="#c0c0c0"/>
<rect x="351" y="761" width="1" height="3" fill="#c0c0c0"/>
<rect x="355" y="761" width="1" height="4" fill="#c0c0c0"/>
<rect x="359" y="761" width="1" height="4" fill="#c0c0c0"/>
<rect x="363" y="761" width="1" height="4" fill="#c0c0c0"/>
<rect x="367" y="761" width="1" height="3" fill="#c0c0c0"/>
<rect x="371" y="761" width="1" height="2" fill="#c0c0c0"/>
<rect x="375" y="761" width="1" height="3" fill="#c0c0c0"/>
<rect x="379" y="761" width="1" height="4" fill="#c0c0c0"/>
<rect x="383" y="761" width="1" height="4" fill="#c0c0c0"/>
<rect x="387" y="761" width="1" height="4" fill="#c0c0c0"/>
<rect x="391" y="761" width="1" height="6" fill="#c0c0c0"/>
<rect x="395" y="761" width="1" height="6" fill="#c0c0c0"/>
<rect x="399" y="761" width="1" height="6" fill="#c0c0c0"/>
<rect x="403" y="761" width="1" height="5" fill="#c0c0c0"/>
<rect x="407" y="761" width="1" height="4" fill="#c0c0c0"/>
<rect x="411" y="761" width="1" height="2" fill="#c0c0c0"/>
<rect x="415" y="759" width="1" height="3" fill="#c0c0c0"/>
<rect x="419" y="758" width="1" height="4" fill="#c0c0c0"/>
<rect x="423" y="757" width="1" height="5" fill="#c0c0c0"/>
<rect x="427" y="756" width="1" height="6" fill="#c0c0c0"/>
<rect x="431" y="756" width="1" height="6" fill="#c0c0c0"/>
<rect x="435" y="756" width="1" height="6" fill="#c0c0c0"/>
<rect x="439" y="755" width="1" height="7" fill="#c0c0c0"/>
<rect x="443" y="755" width="1" height="7" fill="#c0c0c0"/>
<rect x="447" y="755" width="1" height="7" fill="#c0c0c0"/>
<rect x="451" y="756" width="1" height="6" fill="#c0c0c0"/>
<rect x="455" y="742" width="1" height="20" fill="#c0c0c0"/>
<rect x="459" y="733" width="1" height="29" fill="#c0c0c0"/>
<rect x="463" y="725" width="1" height="37" fill="#c0c0c0"/>
<rect x="467" y="719" width="1" height="43" fill="#c0c0c0"/>
<rect x="471" y="713" width="1" height="49" fill="#c0c0c0"/>
<rect x="475" y="708" width="1" height="54" fill="#c0c0c0"/>
<rect x="479" y="706" width="1" height="56" fill="#c0c0c0"/>
<rect x="483" y="705" width="1" height="57" fill="#c0c0c0"/>
<rect x="487" y="704" width="1" height="58" fill="#c0c0c0"/>
<rect x="491" y="706" width="1" height="56" fill="#c0c0c0"/>
<rect x="495" y="708" width="1" height="54" fill="#c0c0c0"/>
<rect x="499" y="710" width="1" height="52" fill="#c0c0c0"/>
<rect x="503" y="714" width="1" height="48" fill="#c0c0c0"/>
<rect x="507" y="716" width="1" height="46" fill="#c0c0c0"/>
<rect x="511" y="717" width="1" height="45" fill="#c0c0c0"/>
<rect x="515" y="719" width="1" height="43" fill="#c0c0c0"/>
<rect x="519" y="720" width="1" height="42" fill="#c0c0c0"/>
<rect x="523" y="722" width="1" height="40" fill="#c0c0c0"/>
<rect x="527" y="724" width="1" height="38" fill="#c0c0c0"/>
<rect x="531" y="726" width="1" height="36" fill="#c0c0c0"/>
<rect x="535" y="728" width="1" height="34" fill="#c0c0c0"/>
<rect x="539" y="730" width="1" height="32" fill="#c0c0c0"/>
<rect x="543" y="731" width="1" height="31" fill="#c0c0c0"/>
<rect x="547" y="732" width="1" height="30" fill="#c0c0c0"/>
<rect x="551" y="733" width="1" height="29" fill="#c0c0c0"/>
<rect x="555" y="735" width="1" height="27" fill="#c0c0c0"/>
<rect x="559" y="737" width="1" height="25" fill="#c0c0c0"/>
<rect x="563" y="739" width="1" height="23" fill="#c0c0c0"/>
<rect x="567" y="740" width="1" height="22" fill="#c0c0c0"/>
<rect x="571" y="741" width="1" height="21" fill="#c0c0c0"/>
<rect x="575" y="742" width="1" height="20" fill="#c0c0c0"/>
<rect x="579" y="746" width="1" height="16" fill="#c0c0c0"/>
<rect x="583" y="749" width="1" height="13" fill="#c0c0c0"/>
<rect x="587" y="755" width="1" height="7" fill="#c0c0c0"/>
<rect x="591" y="758" width="1" height="4" fill="#c0c0c0"/>
<rect x="595" y="761" width="1" height="2" fill="#c0c0c0"/>
<rect x="599" y="761" width="1" height="4" fill="#c0c0c0"/>
<rect x="603" y="761" width="1" height="5" fill="#c0c0c0"/>
<rect x="607" y="761" width="1" height="6" fill="#c0c0c0"/>
<rect x="611" y="761" width="1" height="6" fill="#c0c0c0"/>
<rect x="615" y="761" width="1" height="8" fill="#c0c0c0"/>
<rect x="619" y="761" width="1" height="8" fill="#c0c0c0"/>
<rect x="623" y="761" width="1" height="9" fill="#c0c0c0"/>
<rect x="627" y="761" width="1" height="8" fill="#c0c0c0"/>
<rect x="631" y="761" width="1" height="8" fill="#c0c0c0"/>
<rect x="635" y="761" width="1" height="8" fill="#c0c0c0"/>
<rect x="639" y="761" width="1" height="6" fill="#c0c0c0"/>
<rect x="643" y="761" width="1" height="5" fill="#c0c0c0"/>
<rect x="647" y="761" width="1" height="4" fill="#c0c0c0"/>
<rect x="651" y="761" width="1" height="3" fill="#c0c0c0"/>
<rect x="655" y="761" width="1" height="4" fill="#c0c0c0"/>
<rect x="659" y="761" width="1" height="5" fill="#c0c0c0"/>
<rect x="663" y="761" width="1" height="5" fill="#c0c0c0"/>
<rect x="667" y="761" width="1" height="5" fill="#c0c0c0"/>
<rect x="671" y="761" width="1" height="5" fill="#c0c0c0"/>
<rect x="675" y="761" width="1" height="5" fill="#c0c0c0"/>
<rect x="679" y="761" width="1" height="5" fill="#c0c0c0"/>
<rect x="683" y="761" width="1" height="4" fill="#c0c0c0"/>
<rect x="687" y="761" width="1" height="4" fill="#c0c0c0"/>
<rect x="691" y="761" width="1" height="4" fill="#c0c0c0"/>
<rect x="695" y="761" width="1" height="4" fill="#c0c0c0"/>
<rect x="699" y="761" width="1" height="3" fill="#c0c0c0"/>
<rect x="703" y="761" width="1" height="4" fill="#c0c0c0"/>
<rect x="707" y="761" width="1" height="4" fill="#c0c0c0"/>
<rect x="711" y="761" width="1" height="4" fill="#c0c0c0"/>
<rect x="715" y="761" width="1" height="3" fill="#c0c0c0"/>
<rect x="719" y="761" width="1" height="2" fill="#c0c0c0"/>
<rect x="723" y="761" width="1" height="2" fill="#c0c0c0"/>
<rect x="727" y="761" width="1" height="1" fill="#c0c0c0"/>
<rect x="731" y="760" width="1" height="2" fill="#c0c0c0"/>
<rect x="735" y="753" width="1" height="9" fill="#c0c0c0"/>
<rect x="739" y="748" width="1" height="14" fill="#c0c0c0"/>
<rect x="743" y="735" width="1" height="27" fill="#c0c0c0"/>
<rect x="747" y="728" width="1" height="34" fill="#c0c0c0"/>
<rect x="751" y="720" width="1" height="42" fill="#c0c0c0"/>
<rect x="755" y="716" width="1" height="46" fill="#c0c0c0"/>
<rect x="759" y="711" width="1" height="51" fill="#c0c0c0"/>
<rect x="763" y="708" width="1" height="54" fill="#c0c0c0"/>
<rect x="767" y="706" width="1" height="56" fill="#c0c0c0"/>
<rect x="771" y="712" width="1" height="50" fill="#c0c0c0"/>
<rect x="775" y="714" width="1" height="48" fill="#c0c0c0"/>
<rect x="779" y="716" width="1" height="46" fill="#c0c0c0"/>
<rect x="783" y="718" width="1" height="44" fill="#c0c0c0"/>
<rect x="787" y="721" width="1" height="41" fill="#c0c0c0"/>
<rect x="791" y="722" width="1" height="40" fill="#c0c0c0"/>
<rect x="795" y="723" width="1" height="39" fill="#c0c0c0"/>
<rect x="799" y="724" width="1" height="38" fill="#c0c0c0"/>
<rect x="803" y="724" width="1" height="38" fill="#c0c0c0"/>
<rect x="807" y="721" width="1" height="41" fill="#c0c0c0"/>
<rect x="811" y="719" width="1" height="43" fill="#c0c0c0"/>
<rect x="815" y="715" width="1" height="47" fill="#c0c0c0"/>
<rect x="819" y="712" width="1" height="50" fill="#c0c0c0"/>
<rect x="823" y="711" width="1" height="51" fill="#c0c0c0"/>
<rect x="827" y="712" width="1" height="50" fill="#c0c0c0"/>
<rect x="831" y="713" width="1" height="49" fill="#c0c0c0"/>
<rect x="835" y="713" width="1" height="49" fill="#c0c0c0"/>
<rect x="839" y="712" width="1" height="50" fill="#c0c0c0"/>
<rect x="843" y="713" width="1" height="49" fill="#c0c0c0"/>
<rect x="847" y="716" width="1" height="46" fill="#c0c0c0"/>
<rect x="851" y="720" width="1" height="42" fill="#c0c0c0"/>
<rect x="855" y="726" width="1" height="36" fill="#c0c0c0"/>
<rect x="859" y="731" width="1" height="31" fill="#c0c0c0"/>
<rect x="863" y="734" width="1" height="28" fill="#c0c0c0"/>
<rect x="867" y="738" width="1" height="24" fill="#c0c0c0"/>
<rect x="871" y="741" width="1" height="21" fill="#c0c0c0"/>
<rect x="875" y="747" width="1" height="15" fill="#c0c0c0"/>
<rect x="879" y="755" width="1" height="7" fill="#c0c0c0"/>
<rect x="883" y="760" width="1" height="2" fill="#c0c0c0"/>
<rect x="887" y="761" width="1" height="2" fill="#c0c0c0"/>
<rect x="891" y="761" width="1" height="2" fill="#c0c0c0"/>
<rect x="895" y="761" width="1" height="3" fill="#c0c0c0"/>
<rect x="899" y="761" width="1" height="2" fill="#c0c0c0"/>
<rect x="903" y="761" width="1" height="2" fill="#c0c0c0"/>
<rect x="907" y="760" width="1" height="2" fill="#c0c0c0"/>
<rect x="911" y="758" width="1" height="4" fill="#c0c0c0"/>
<rect x="915" y="757" width="1" height="5" fill="#c0c0c0"/>
<rect x="919" y="755" width="1" height="7" fill="#c0c0c0"/>
<rect x="923" y="753" width="1" height="9" fill="#c0c0c0"/>
<rect x="927" y="752" width="1" height="10" fill="#c0c0c0"/>
<rect x="931" y="750" width="1" height="12" fill="#c0c0c0"/>
<rect x="935" y="749" width="1" height="13" fill="#c0c0c0"/>
<rect x="939" y="748" width="1" height="14" fill="#c0c0c0"/>
<rect x="943" y="747" width="1" height="15" fill="#c0c0c0"/>
<rect x="947" y="748" width="1" height="14" fill="#c0c0c0"/>
<rect x="951" y="750" width="1" height="12" fill="#c0c0c0"/>
<rect x="955" y="752" width="1" height="10" fill="#c0c0c0"/>
<rect x="959" y="752" width="1" height="10" fill="#c0c0c0"/>
<rect x="963" y="751" width="1" height="11" fill="#c0c0c0"/>
<rect x="967" y="751" width="1" height="11" fill="#c0c0c0"/>
<rect x="971" y="754" width="1" height="8" fill="#c0c0c0"/>
<rect x="975" y="758" width="1" height="4" fill="#c0c0c0"/>
<rect x="979" y="761" width="1" height="2" fill="#c0c0c0"/>
<rect x="983" y="761" width="1" height="5" fill="#c0c0c0"/>
<rect x="987" y="761" width="1" height="6" fill="#c0c0c0"/>
<rect x="991" y="761" width="1" height="6" fill="#c0c0c0"/>
<rect x="995" y="761" width="1" height="7" fill="#c0c0c0"/>
<rect x="999" y="761" width="1" height="9" fill="#c0c0c0"/>
<rect x="1003" y="761" width="1" height="10" fill="#c0c0c0"/>
<rect x="1007" y="761" width="1" height="11" fill="#c0c0c0"/>
<rect x="1011" y="761" width="1" height="11" fill="#c0c0c0"/>
<rect x="1015" y="761" width="1" height="12" fill="#c0c0c0"/>
<rect x="1019" y="761" width="1" height="12" fill="#c0c0c0"/>
<rect x="1023" y="761" width="1" height="13" fill="#c0c0c0"/>
<rect x="1027" y="761" width="1" height="14" fill="#c0c0c0"/>
<rect x="1031" y="761" width="1" height="14" fill="#c0c0c0"/>
<rect x="1035" y="761" width="1" height="14" fill="#c0c0c0"/>
<rect x="1039" y="761" width="1" height="14" fill="#c0c0c0"/>
<rect x="1043" y="761" width="1" height="15" fill="#c0c0c0"/>
<rect x="1047" y="761" width="1" height="16" fill="#c0c0c0"/>
<rect x="1051" y="761" width="1" height="16" fill="#c0c0c0"/>
<rect x="1055" y="761" width="1" height="17" fill="#c0c0c0"/>
<rect x="1059" y="761" width="1" height="20" fill="#c0c0c0"/>
<rect x="1063" y="761" width="1" height="22" fill="#c0c0c0"/>
<rect x="1067" y="761" width="1" height="26" fill="#c0c0c0"/>
<rect x="1071" y="761" width="1" height="26" fill="#c0c0c0"/>
<rect x="1075" y="761" width="1" height="27" fill="#c0c0c0"/>
<rect x="1079" y="761" width="1" height="26" fill="#c0c0c0"/>
<rect x="1083" y="761" width="1" height="24" fill="#c0c0c0"/>
<rect x="1087" y="761" width="1" height="22" fill="#c0c0c0"/>
<rect x="1091" y="761" width="1" height="20" fill="#c0c0c0"/>
<rect x="1095" y="761" width="1" height="20" fill="#c0c0c0"/>
<rect x="1099" y="761" width="1" height="19" fill="#c0c0c0"/>
<rect x="1103" y="761" width="1" height="17" fill="#c0c0c0"/>
<rect x="1107" y="761" width="1" height="14" fill="#c0c0c0"/>
<rect x="1111" y="761" width="1" height="12" fill="#c0c0c0"/>
<rect x="1115" y="761" width="1" height="10" fill="#c0c0c0"/>
<rect x="1119" y="761" width="1" height="8" fill="#c0c0c0"/>
<rect x="1123" y="761" width="1" height="6" fill="#c0c0c0"/>
<rect x="1127" y="761" width="1" height="6" fill="#c0c0c0"/>
<rect x="1131" y="761" width="1" height="6" fill="#c0c0c0"/>
<rect x="1135" y="761" width="1" height="6" fill="#c0c0c0"/>
<rect x="1139" y="761" width="1" height="6" fill="#c0c0c0"/>
<rect x="1143" y="761" width="1" height="5" fill="#c0c0c0"/>
<rect x="1147" y="761" width="1" height="4" fill="#c0c0c0"/>
<rect x="1151" y="761" width="1" height="3" fill="#c0c0c0"/>
<rect x="1155" y="759" width="1" height="3" fill="#c0c0c0"/>
<rect x="1159" y="759" width="1" height="3" fill="#c0c0c0"/>
<rect x="1163" y="759" width="1" height="3" fill="#c0c0c0"/>
<rect x="1167" y="759" width="1" height="3" fill="#c0c0c0"/>
<rect x="1171" y="761" width="1" height="1" fill="#c0c0c0"/>
<rect x="1175" y="761" width="1" height="1" fill="#c0c0c0"/>
<rect x="1179" y="761" width="1" height="1" fill="#c0c0c0"/>
<rect x="1183" y="761" width="1" height="1" fill="#c0c0c0"/>
<rect x="1187" y="761" width="1" height="5" fill="#c0c0c0"/>
<rect x="1191" y="761" width="1" height="6" fill="#c0c0c0"/>
<rect x="1195" y="761" width="1" height="7" fill="#c0c0c0"/>
<rect x="1199" y="761" width="1" height="9" fill="#c0c0c0"/>
<rect x="1203" y="761" width="1" height="10" fill="#c0c0c0"/>
<rect x="1207" y="761" width="1" height="10" fill="#c0c0c0"/>
<rect x="1211" y="761" width="1" height="10" fill="#c0c0c0"/>
<rect x="1215" y="761" width="1" height="11" fill="#c0c0c0"/>
<rect x="1219" y="761" width="1" height="10" fill="#c0c0c0"/>
<rect x="1223" y="761" width="1" height="10" fill="#c0c0c0"/>
<rect x="1227" y="761" width="1" height="9" fill="#c0c0c0"/>
<rect x="1231" y="761" width="1" height="9" fill="#c0c0c0"/>
<rect x="1235" y="761" width="1" height="10" fill="#c0c0c0"/>
<rect x="1239" y="761" width="1" height="10" fill="#c0c0c0"/>
<rect x="1243" y="761" width="1" height="10" fill="#c0c0c0"/>
<rect x="1247" y="761" width="1" height="11" fill="#c0c0c0"/>
<rect x="1251" y="761" width="1" height="13" fill="#c0c0c0"/>
<rect x="1255" y="761" width="1" height="15" fill="#c0c0c0"/>
<rect x="1259" y="761" width="1" height="16" fill="#c0c0c0"/>
<rect x="1263" y="761" width="1" height="16" fill="#c0c0c0"/>
<rect x="1267" y="761" width="1" height="16" fill="#c0c0c0"/>
<rect x="1271" y="761" width="1" height="16" fill="#c0c0c0"/>
<rect x="1275" y="761" width="1" height="17" fill="#c0c0c0"/>
<rect x="1279" y="761" width="1" height="18" fill="#c0c0c0"/>
<rect x="1283" y="761" width="1" height="20" fill="#c0c0c0"/>
<rect x="1287" y="761" width="1" height="22" fill="#c0c0c0"/>
<rect x="1291" y="761" width="1" height="24" fill="#c0c0c0"/>
<rect x="1295" y="761" width="1" height="27" fill="#c0c0c0"/>
<rect x="1299" y="761" width="1" height="29" fill="#c0c0c0"/>
<rect x="1303" y="761" width="1" height="29" fill="#c0c0c0"/>
<polyline points="3.5,768.9 7.5,768.2 11.5,767.9 15.5,767.7 19.5,767.4 23.5,767.4 27.5,767.7 31.5,768.1 35.5,768.7 39.5,769.3 43.5,769.9 47.5,770.6 51.5,771.3 55.5,772.2 59.5,773.5 63.5,775.3 67.5,777.6 71.5,780.1 75.5,782.8 79.5,785.5 83.5,787.9 87.5,789.9 91.5,791.4 95.5,792.0 99.5,791.7 103.5,790.9 107.5,789.6 111.5,788.3 115.5,787.1 119.5,786.2 123.5,785.6 127.5,785.5 131.5,786.0 135.5,786.6 139.5,787.1 143.5,787.4 147.5,787.4 151.5,786.8 155.5,785.9 159.5,784.7 163.5,782.9 167.5,780.5 171.5,778.1 175.5,775.9 179.5,774.0 183.5,772.1 187.5,770.5 191.5,769.2 195.5,768.3 199.5,768.1 203.5,768.5 207.5,769.3 211.5,770.5 215.5,772.2 219.5,774.2 223.5,776.3 227.5,778.5 231.5,780.5 235.5,781.8 239.5,782.7 243.5,783.3 247.5,783.3 251.5,782.7 255.5,781.7 259.5,780.3 263.5,778.6 267.5,777.1 271.5,775.8 275.5,774.6 279.5,773.4 283.5,772.3 287.5,771.4 291.5,770.7 295.5,770.4 299.5,770.3 303.5,770.0 307.5,769.4 311.5,769.0 315.5,768.5 319.5,767.7 323.5,766.9 327.5,766.1 331.5,765.3 335.5,764.5 339.5,763.7 343.5,763.3 347.5,762.9 351.5,762.7 355.5,762.8 359.5,763.0 363.5,763.2 367.5,763.4 371.5,763.4 375.5,763.6 379.5,763.7 383.5,763.9 387.5,764.0 391.5,764.3 395.5,764.6 399.5,764.8 403.5,765.1 407.5,765.2 411.5,765.1 415.5,764.6 419.5,763.9 423.5,763.2 427.5,762.1 431.5,760.9 435.5,759.8 439.5,758.7 443.5,757.8 447.5,757.1 451.5,756.7 455.5,754.9 459.5,752.2 463.5,748.7 467.5,744.7 471.5,739.8 475.5,734.6 479.5,729.1 483.5,723.4 487.5,717.7 491.5,713.7 495.5,710.9 499.5,709.2 503.5,708.6 507.5,708.9 511.5,709.9 515.5,711.3 519.5,713.1 523.5,715.0 527.5,717.1 531.5,719.1 535.5,721.0 539.5,722.9 543.5,724.6 547.5,726.2 551.5,727.8 555.5,729.4 559.5,731.1 563.5,732.8 567.5,734.3 571.5,735.8 575.5,737.1 579.5,738.8 583.5,740.7 587.5,743.1 591.5,745.6 595.5,748.4 599.5,751.2 603.5,754.0 607.5,756.7 611.5,759.4 615.5,761.8 619.5,764.0 623.5,765.7 627.5,766.8 631.5,767.4 635.5,767.8 639.5,767.9 643.5,767.8 647.5,767.5 651.5,767.1 655.5,766.6 659.5,766.2 663.5,765.8 667.5,765.5 671.5,765.2 675.5,765.0 679.5,765.1 683.5,765.1 687.5,765.1 691.5,765.1 695.5,764.9 699.5,764.7 703.5,764.5 707.5,764.5 711.5,764.4 715.5,764.2 719.5,764.0 723.5,763.7 727.5,763.4 731.5,763.0 735.5,761.9 739.5,760.1 743.5,756.9 747.5,752.9 751.5,748.1 755.5,743.0 759.5,737.4 763.5,731.5 767.5,725.6 771.5,721.0 775.5,717.2 779.5,715.1 783.5,714.1 787.5,714.2 791.5,714.9 795.5,716.1 799.5,717.9 803.5,719.9 807.5,720.9 811.5,721.4 815.5,721.3 819.5,720.6 823.5,719.5 827.5,718.4 831.5,717.2 835.5,716.0 839.5,714.7 843.5,713.8 847.5,713.5 851.5,714.1 855.5,715.6 859.5,717.8 863.5,720.3 867.5,723.1 871.5,726.2 875.5,730.1 879.5,734.8 883.5,739.7 887.5,744.4 891.5,748.5 895.5,752.0 899.5,755.1 903.5,757.7 907.5,759.8 911.5,761.0 915.5,761.3 919.5,760.7 923.5,759.7 927.5,758.5 931.5,757.1 935.5,755.6 939.5,754.0 943.5,752.6 947.5,751.5 951.5,750.7 955.5,750.4 959.5,750.3 963.5,750.2 967.5,750.3 971.5,750.9 975.5,752.0 979.5,753.6 983.5,755.4 987.5,757.3 991.5,758.8 995.5,760.5 999.5,762.4 1003.5,764.5 1007.5,766.4 1011.5,767.9 1015.5,769.1 1019.5,769.9 1023.5,770.7 1027.5,771.6 1031.5,772.4 1035.5,773.0 1039.5,773.4 1043.5,773.9 1047.5,774.4 1051.5,774.9 1055.5,775.4 1059.5,776.2 1063.5,777.0 1067.5,778.3 1071.5,779.7 1075.5,781.2 1079.5,782.4 1083.5,783.4 1087.5,784.0 1091.5,784.2 1095.5,784.2 1099.5,783.8 1103.5,782.8 1107.5,781.5 1111.5,779.8 1115.5,778.1 1119.5,776.2 1123.5,774.5 1127.5,772.9 1131.5,771.4 1135.5,770.0 1139.5,768.8 1143.5,767.7 1147.5,766.9 1151.5,766.1 1155.5,765.1 1159.5,764.3 1163.5,763.5 1167.5,762.8 1171.5,762.1 1175.5,761.6 1179.5,761.1 1183.5,760.7 1187.5,761.0 1191.5,761.7 1195.5,762.7 1199.5,763.9 1203.5,765.0 1207.5,766.1 1211.5,767.2 1215.5,768.3 1219.5,769.4 1223.5,769.8 1227.5,770.2 1231.5,770.4 1235.5,770.5 1239.5,770.4 1243.5,770.4 1247.5,770.5 1251.5,770.7 1255.5,771.2 1259.5,771.9 1263.5,772.7 1267.5,773.6 1271.5,774.2 1275.5,775.1 1279.5,775.9 1283.5,776.9 1287.5,777.9 1291.5,778.9 1295.5,780.1 1299.5,781.5 1303.5,783.0" fill="none" stroke="#ff0000" stroke-width="1" stroke-dasharray="3,3"/>
</g>
<text x="7.3" y="711" font-size="9.6" fill="#000" textLength="153.5" lengthAdjust="spacingAndGlyphs" stroke="#000" stroke-width="0.3" text-anchor="start">MACD(12,26,9) -0.029334 -0.022064</text>
<rect x="1640" y="700" width="1" height="1" fill="#000"/>
<rect x="1640" y="761" width="1" height="1" fill="#000"/>
<rect x="1640" y="800" width="1" height="1" fill="#000"/>
<text x="1643" y="709" font-size="9.6" fill="#000" textLength="38" lengthAdjust="spacingAndGlyphs" stroke="#000" stroke-width="0.3" text-anchor="start">0.063184</text>
<text x="1643" y="765" font-size="9.6" fill="#000" textLength="18.5" lengthAdjust="spacingAndGlyphs" stroke="#000" stroke-width="0.3" text-anchor="start">0.00</text>
<text x="1643" y="798" font-size="9.6" fill="#000" textLength="42" lengthAdjust="spacingAndGlyphs" stroke="#000" stroke-width="0.3" text-anchor="start">-0.040355</text>
<rect x="3" y="802" width="1" height="3" fill="#000"/>
<text x="2.3" y="814" font-size="9.6" fill="#000" textLength="52.3" lengthAdjust="spacingAndGlyphs" stroke="#000" stroke-width="0.3" text-anchor="start">25 Dec 2018</text>
<rect x="67" y="802" width="1" height="3" fill="#000"/>
<text x="66.3" y="814" font-size="9.6" fill="#000" textLength="50.2" lengthAdjust="spacingAndGlyphs" stroke="#000" stroke-width="0.3" text-anchor="start">12 Jan 2019</text>
<rect x="131" y="802" width="1" height="3" fill="#000"/>
<text x="130.3" y="814" font-size="9.6" fill="#000" textLength="51.2" lengthAdjust="spacingAndGlyphs" stroke="#000" stroke-width="0.3" text-anchor="start">31 Jan 2019</text>
<rect x="195" y="802" width="1" height="3" fill="#000"/>
<text x="194.3" y="814" font-size="9.6" fill="#000" textLength="52.2" lengthAdjust="spacingAndGlyphs" stroke="#000" stroke-width="0.3" text-anchor="start">19 Feb 2019</text>
<rect x="259" y="802" width="1" height="3" fill="#000"/>
<text x="258.3" y="814" font-size="9.6" fill="#000" textLength="47.4" lengthAdjust="spacingAndGlyphs" stroke="#000" stroke-width="0.3" text-anchor="start">9 Mar 2019</text>
<rect x="323" y="802" width="1" height="3" fill="#000"/>
<text x="322.3" y="814" font-size="9.6" fill="#000" textLength="52.7" lengthAdjust="spacingAndGlyphs" stroke="#000" stroke-width="0.3" text-anchor="start">28 Mar 2019</text>
<rect x="387" y="802" width="1" height="3" fill="#000"/>
<text x="386.3" y="814" font-size="9.6" fill="#000" textLength="51.6" lengthAdjust="spacingAndGlyphs" stroke="#000" stroke-width="0.3" text-anchor="start">16 Apr 2019</text>
<rect x="451" y="802" width="1" height="3" fill="#000"/>
<text x="450.3" y="814" font-size="9.6" fill="#000" textLength="51.2" lengthAdjust="spacingAndGlyphs" stroke="#000" stroke-width="0.3" text-anchor="start">6 May 2019</text>
<rect x="515" y="802" width="1" height="3" fill="#000"/>
<text x="514.3" y="814" font-size="9.6" fill="#000" textLength="56.0" lengthAdjust="spacingAndGlyphs" stroke="#000" stroke-width="0.3" text-anchor="start">30 May 2019</text>
<rect x="579" y="802" width="1" height="3" fill="#000"/>
<text x="578.3" y="814" font-size="9.6" fill="#000" textLength="50.3" lengthAdjust="spacingAndGlyphs" stroke="#000" stroke-width="0.3" text-anchor="start">18 Jun 2019</text>
<rect x="643" y="802" width="1" height="3" fill="#000"/>
<text x="642.3" y="814" font-size="9.6" fill="#000" textLength="42.7" lengthAdjust="spacingAndGlyphs" stroke="#000" stroke-width="0.3" text-anchor="start">6 Jul 2019</text>
<rect x="707" y="802" width="1" height="3" fill="#000"/>
<text x="706.3" y="814" font-size="9.6" fill="#000" textLength="47.8" lengthAdjust="spacingAndGlyphs" stroke="#000" stroke-width="0.3" text-anchor="start">25 Jul 2019</text>
<rect x="771" y="802" width="1" height="3" fill="#000"/>
<text x="770.3" y="814" font-size="9.6" fill="#000" textLength="53.7" lengthAdjust="spacingAndGlyphs" stroke="#000" stroke-width="0.3" text-anchor="start">13 Aug 2019</text>
<rect x="835" y="802" width="1" height="3" fill="#000"/>
<text x="834.3" y="814" font-size="9.6" fill="#000" textLength="53.5" lengthAdjust="spacingAndGlyphs" stroke="#000" stroke-width="0.3" text-anchor="start">31 Aug 2019</text>
<rect x="899" y="802" width="1" height="3" fill="#000"/>
<text x="898.3" y="814" font-size="9.6" fill="#000" textLength="52.2" lengthAdjust="spacingAndGlyphs" stroke="#000" stroke-width="0.3" text-anchor="start">19 Sep 2019</text>
<rect x="963" y="802" width="1" height="3" fill="#000"/>
<text x="962.3" y="814" font-size="9.6" fill="#000" textLength="46.8" lengthAdjust="spacingAndGlyphs" stroke="#000" stroke-width="0.3" text-anchor="start">8 Oct 2019</text>
<rect x="1027" y="802" width="1" height="3" fill="#000"/>
<text x="1026.3" y="814" font-size="9.6" fill="#000" textLength="51.6" lengthAdjust="spacingAndGlyphs" stroke="#000" stroke-width="0.3" text-anchor="start">26 Oct 2019</text>
<rect x="1091" y="802" width="1" height="3" fill="#000"/>
<text x="1090.3" y="814" font-size="9.6" fill="#000" textLength="54.1" lengthAdjust="spacingAndGlyphs" stroke="#000" stroke-width="0.3" text-anchor="start">14 Nov 2019</text>
<rect x="1155" y="802" width="1" height="3" fill="#000"/>
<text x="1154.3" y="814" font-size="9.6" fill="#000" textLength="47.2" lengthAdjust="spacingAndGlyphs" stroke="#000" stroke-width="0.3" text-anchor="start">3 Dec 2019</text>
<rect x="1219" y="802" width="1" height="3" fill="#000"/>
<text x="1218.3" y="814" font-size="9.6" fill="#000" textLength="52.1" lengthAdjust="spacingAndGlyphs" stroke="#000" stroke-width="0.3" text-anchor="start">21 Dec 2019</text>
<rect x="1283" y="802" width="1" height="3" fill="#000"/>
<text x="1282.3" y="814" font-size="9.6" fill="#000" textLength="45.3" lengthAdjust="spacingAndGlyphs" stroke="#000" stroke-width="0.3" text-anchor="start">9 Jan 2020</text>
<rect x="0" y="822" width="1682" height="1" fill="#e3e3e3"/>
<rect x="0" y="824" width="1682" height="1" fill="#000"/>
<rect x="0" y="826" width="1682" height="16" fill="#f0f0f0"/>
<rect x="417" y="824" width="102" height="18" fill="#ffffff"/>
<rect x="416" y="824" width="1" height="18" fill="#000"/>
<rect x="519" y="824" width="1" height="18" fill="#000"/>
<text x="16.8" y="839" font-size="12.5" fill="#6d6d6d" textLength="79" lengthAdjust="spacingAndGlyphs" text-anchor="start">EURUSD,Daily</text>
<text x="118.4" y="839" font-size="12.5" fill="#6d6d6d" textLength="77.6" lengthAdjust="spacingAndGlyphs" text-anchor="start">USDCHF,Daily</text>
<text x="219" y="839" font-size="12.5" fill="#6d6d6d" textLength="83" lengthAdjust="spacingAndGlyphs" text-anchor="start">AUDUSD,Daily</text>
<text x="323" y="839" font-size="12.5" fill="#6d6d6d" textLength="81" lengthAdjust="spacingAndGlyphs" text-anchor="start">USDCAD,Daily</text>
<rect x="108" y="827" width="1" height="14" fill="#606060"/>
<rect x="208" y="827" width="1" height="14" fill="#606060"/>
<rect x="312" y="827" width="1" height="14" fill="#606060"/>
<text x="426.6" y="839" font-size="12.5" fill="#000" textLength="82.4" lengthAdjust="spacingAndGlyphs" text-anchor="start">USDCNH,Daily</text>
<path d="M1658.2 829.8 L1658.2 836.7 L1654.8 833.25 Z" fill="#8c8c8c" shape-rendering="auto"/>
<path d="M1673.8 829.8 L1673.8 836.7 L1677.3 833.25 Z" fill="#8c8c8c" shape-rendering="auto"/>
</svg></body></html>
